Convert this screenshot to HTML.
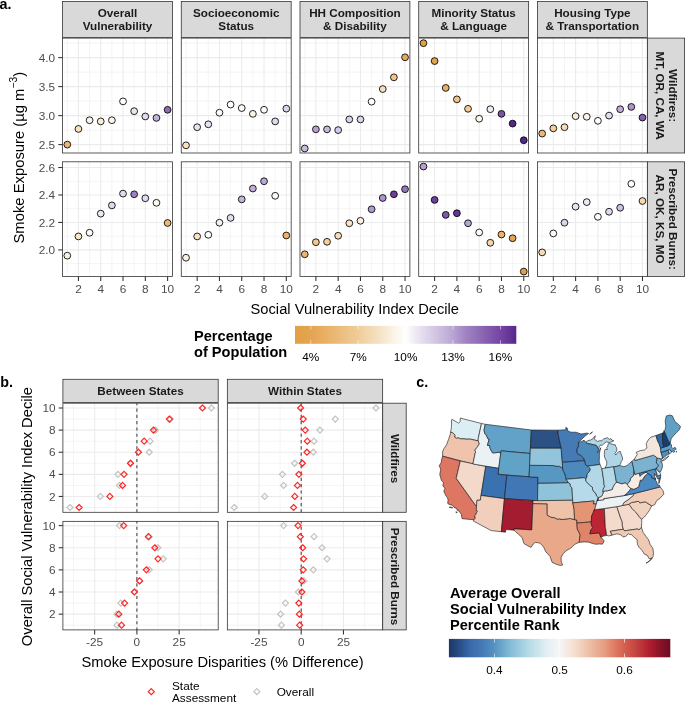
<!DOCTYPE html>
<html><head><meta charset="utf-8"><style>
html,body{margin:0;padding:0;background:#fff;}
body{width:685px;height:704px;overflow:hidden;font-family:"Liberation Sans",sans-serif;}
svg{display:block;will-change:transform;}
</style></head><body>
<svg width="685" height="704" viewBox="0 0 685 704">
<rect width="685" height="704" fill="#fff"/>
<rect x="62.55" y="38.1" width="109.9" height="114.9" fill="#fff"/>
<line x1="62.55" x2="172.45" y1="130.1" y2="130.1" stroke="#EBEBEB" stroke-width="0.55"/>
<line x1="62.55" x2="172.45" y1="101.1" y2="101.1" stroke="#EBEBEB" stroke-width="0.55"/>
<line x1="62.55" x2="172.45" y1="72.1" y2="72.1" stroke="#EBEBEB" stroke-width="0.55"/>
<line x1="62.55" x2="172.45" y1="43.1" y2="43.1" stroke="#EBEBEB" stroke-width="0.55"/>
<line x1="67.3" x2="67.3" y1="38.1" y2="153" stroke="#EBEBEB" stroke-width="0.55"/>
<line x1="89.59" x2="89.59" y1="38.1" y2="153" stroke="#EBEBEB" stroke-width="0.55"/>
<line x1="111.88" x2="111.88" y1="38.1" y2="153" stroke="#EBEBEB" stroke-width="0.55"/>
<line x1="134.16" x2="134.16" y1="38.1" y2="153" stroke="#EBEBEB" stroke-width="0.55"/>
<line x1="156.45" x2="156.45" y1="38.1" y2="153" stroke="#EBEBEB" stroke-width="0.55"/>
<line x1="62.55" x2="172.45" y1="144.6" y2="144.6" stroke="#EBEBEB" stroke-width="1.07"/>
<line x1="62.55" x2="172.45" y1="115.6" y2="115.6" stroke="#EBEBEB" stroke-width="1.07"/>
<line x1="62.55" x2="172.45" y1="86.6" y2="86.6" stroke="#EBEBEB" stroke-width="1.07"/>
<line x1="62.55" x2="172.45" y1="57.6" y2="57.6" stroke="#EBEBEB" stroke-width="1.07"/>
<line x1="78.44" x2="78.44" y1="38.1" y2="153" stroke="#EBEBEB" stroke-width="1.07"/>
<line x1="100.73" x2="100.73" y1="38.1" y2="153" stroke="#EBEBEB" stroke-width="1.07"/>
<line x1="123.02" x2="123.02" y1="38.1" y2="153" stroke="#EBEBEB" stroke-width="1.07"/>
<line x1="145.31" x2="145.31" y1="38.1" y2="153" stroke="#EBEBEB" stroke-width="1.07"/>
<line x1="167.6" x2="167.6" y1="38.1" y2="153" stroke="#EBEBEB" stroke-width="1.07"/>
<circle cx="67.3" cy="144.6" r="3.4" fill="#EAB774" stroke="#000" stroke-width="0.85"/>
<circle cx="78.44" cy="128.94" r="3.4" fill="#F8E2BF" stroke="#000" stroke-width="0.85"/>
<circle cx="89.59" cy="120.24" r="3.4" fill="#FBF6EC" stroke="#000" stroke-width="0.85"/>
<circle cx="100.73" cy="121.4" r="3.4" fill="#F8EEDB" stroke="#000" stroke-width="0.85"/>
<circle cx="111.88" cy="120.24" r="3.4" fill="#FAF6EB" stroke="#000" stroke-width="0.85"/>
<circle cx="123.02" cy="101.39" r="3.4" fill="#FFFFFF" stroke="#000" stroke-width="0.85"/>
<circle cx="134.16" cy="111.19" r="3.4" fill="#E9E4F2" stroke="#000" stroke-width="0.85"/>
<circle cx="145.31" cy="116.47" r="3.4" fill="#E0D9ED" stroke="#000" stroke-width="0.85"/>
<circle cx="156.45" cy="117.92" r="3.4" fill="#C2B1D9" stroke="#000" stroke-width="0.85"/>
<circle cx="167.6" cy="109.8" r="3.4" fill="#8A6BB4" stroke="#000" stroke-width="0.85"/>
<rect x="62.55" y="38.1" width="109.9" height="114.9" fill="none" stroke="#333333" stroke-width="0.8"/>
<rect x="181.27" y="38.1" width="109.9" height="114.9" fill="#fff"/>
<line x1="181.27" x2="291.17" y1="130.1" y2="130.1" stroke="#EBEBEB" stroke-width="0.55"/>
<line x1="181.27" x2="291.17" y1="101.1" y2="101.1" stroke="#EBEBEB" stroke-width="0.55"/>
<line x1="181.27" x2="291.17" y1="72.1" y2="72.1" stroke="#EBEBEB" stroke-width="0.55"/>
<line x1="181.27" x2="291.17" y1="43.1" y2="43.1" stroke="#EBEBEB" stroke-width="0.55"/>
<line x1="186.02" x2="186.02" y1="38.1" y2="153" stroke="#EBEBEB" stroke-width="0.55"/>
<line x1="208.31" x2="208.31" y1="38.1" y2="153" stroke="#EBEBEB" stroke-width="0.55"/>
<line x1="230.6" x2="230.6" y1="38.1" y2="153" stroke="#EBEBEB" stroke-width="0.55"/>
<line x1="252.88" x2="252.88" y1="38.1" y2="153" stroke="#EBEBEB" stroke-width="0.55"/>
<line x1="275.17" x2="275.17" y1="38.1" y2="153" stroke="#EBEBEB" stroke-width="0.55"/>
<line x1="181.27" x2="291.17" y1="144.6" y2="144.6" stroke="#EBEBEB" stroke-width="1.07"/>
<line x1="181.27" x2="291.17" y1="115.6" y2="115.6" stroke="#EBEBEB" stroke-width="1.07"/>
<line x1="181.27" x2="291.17" y1="86.6" y2="86.6" stroke="#EBEBEB" stroke-width="1.07"/>
<line x1="181.27" x2="291.17" y1="57.6" y2="57.6" stroke="#EBEBEB" stroke-width="1.07"/>
<line x1="197.16" x2="197.16" y1="38.1" y2="153" stroke="#EBEBEB" stroke-width="1.07"/>
<line x1="219.45" x2="219.45" y1="38.1" y2="153" stroke="#EBEBEB" stroke-width="1.07"/>
<line x1="241.74" x2="241.74" y1="38.1" y2="153" stroke="#EBEBEB" stroke-width="1.07"/>
<line x1="264.03" x2="264.03" y1="38.1" y2="153" stroke="#EBEBEB" stroke-width="1.07"/>
<line x1="286.32" x2="286.32" y1="38.1" y2="153" stroke="#EBEBEB" stroke-width="1.07"/>
<circle cx="186.02" cy="145.35" r="3.4" fill="#F7E1C0" stroke="#000" stroke-width="0.85"/>
<circle cx="197.16" cy="127.2" r="3.4" fill="#E8E3F3" stroke="#000" stroke-width="0.85"/>
<circle cx="208.31" cy="124.3" r="3.4" fill="#E6E0F1" stroke="#000" stroke-width="0.85"/>
<circle cx="219.45" cy="112.7" r="3.4" fill="#FBFAFD" stroke="#000" stroke-width="0.85"/>
<circle cx="230.6" cy="104.58" r="3.4" fill="#FFFFFE" stroke="#000" stroke-width="0.85"/>
<circle cx="241.74" cy="108.06" r="3.4" fill="#FCFAF2" stroke="#000" stroke-width="0.85"/>
<circle cx="252.88" cy="113.86" r="3.4" fill="#FAF4E6" stroke="#000" stroke-width="0.85"/>
<circle cx="264.03" cy="109.8" r="3.4" fill="#FBFAF8" stroke="#000" stroke-width="0.85"/>
<circle cx="275.17" cy="121.4" r="3.4" fill="#E0DAED" stroke="#000" stroke-width="0.85"/>
<circle cx="286.32" cy="108.64" r="3.4" fill="#DAD3EB" stroke="#000" stroke-width="0.85"/>
<rect x="181.27" y="38.1" width="109.9" height="114.9" fill="none" stroke="#333333" stroke-width="0.8"/>
<rect x="299.99" y="38.1" width="109.9" height="114.9" fill="#fff"/>
<line x1="299.99" x2="409.89" y1="130.1" y2="130.1" stroke="#EBEBEB" stroke-width="0.55"/>
<line x1="299.99" x2="409.89" y1="101.1" y2="101.1" stroke="#EBEBEB" stroke-width="0.55"/>
<line x1="299.99" x2="409.89" y1="72.1" y2="72.1" stroke="#EBEBEB" stroke-width="0.55"/>
<line x1="299.99" x2="409.89" y1="43.1" y2="43.1" stroke="#EBEBEB" stroke-width="0.55"/>
<line x1="304.74" x2="304.74" y1="38.1" y2="153" stroke="#EBEBEB" stroke-width="0.55"/>
<line x1="327.03" x2="327.03" y1="38.1" y2="153" stroke="#EBEBEB" stroke-width="0.55"/>
<line x1="349.32" x2="349.32" y1="38.1" y2="153" stroke="#EBEBEB" stroke-width="0.55"/>
<line x1="371.6" x2="371.6" y1="38.1" y2="153" stroke="#EBEBEB" stroke-width="0.55"/>
<line x1="393.89" x2="393.89" y1="38.1" y2="153" stroke="#EBEBEB" stroke-width="0.55"/>
<line x1="299.99" x2="409.89" y1="144.6" y2="144.6" stroke="#EBEBEB" stroke-width="1.07"/>
<line x1="299.99" x2="409.89" y1="115.6" y2="115.6" stroke="#EBEBEB" stroke-width="1.07"/>
<line x1="299.99" x2="409.89" y1="86.6" y2="86.6" stroke="#EBEBEB" stroke-width="1.07"/>
<line x1="299.99" x2="409.89" y1="57.6" y2="57.6" stroke="#EBEBEB" stroke-width="1.07"/>
<line x1="315.88" x2="315.88" y1="38.1" y2="153" stroke="#EBEBEB" stroke-width="1.07"/>
<line x1="338.17" x2="338.17" y1="38.1" y2="153" stroke="#EBEBEB" stroke-width="1.07"/>
<line x1="360.46" x2="360.46" y1="38.1" y2="153" stroke="#EBEBEB" stroke-width="1.07"/>
<line x1="382.75" x2="382.75" y1="38.1" y2="153" stroke="#EBEBEB" stroke-width="1.07"/>
<line x1="405.04" x2="405.04" y1="38.1" y2="153" stroke="#EBEBEB" stroke-width="1.07"/>
<circle cx="304.74" cy="148.49" r="3.4" fill="#CBBCDF" stroke="#000" stroke-width="0.85"/>
<circle cx="315.88" cy="129.35" r="3.4" fill="#B5A0D1" stroke="#000" stroke-width="0.85"/>
<circle cx="327.03" cy="129.35" r="3.4" fill="#C7B7DB" stroke="#000" stroke-width="0.85"/>
<circle cx="338.17" cy="130.1" r="3.4" fill="#D4C9E6" stroke="#000" stroke-width="0.85"/>
<circle cx="349.32" cy="119.43" r="3.4" fill="#D9D0EA" stroke="#000" stroke-width="0.85"/>
<circle cx="360.46" cy="119.43" r="3.4" fill="#DCD5EC" stroke="#000" stroke-width="0.85"/>
<circle cx="371.6" cy="101.68" r="3.4" fill="#FFFFFF" stroke="#000" stroke-width="0.85"/>
<circle cx="382.75" cy="89.04" r="3.4" fill="#F6E0C0" stroke="#000" stroke-width="0.85"/>
<circle cx="393.89" cy="77.32" r="3.4" fill="#F0C48A" stroke="#000" stroke-width="0.85"/>
<circle cx="405.04" cy="57.31" r="3.4" fill="#E5AA58" stroke="#000" stroke-width="0.85"/>
<rect x="299.99" y="38.1" width="109.9" height="114.9" fill="none" stroke="#333333" stroke-width="0.8"/>
<rect x="418.71" y="38.1" width="109.9" height="114.9" fill="#fff"/>
<line x1="418.71" x2="528.61" y1="130.1" y2="130.1" stroke="#EBEBEB" stroke-width="0.55"/>
<line x1="418.71" x2="528.61" y1="101.1" y2="101.1" stroke="#EBEBEB" stroke-width="0.55"/>
<line x1="418.71" x2="528.61" y1="72.1" y2="72.1" stroke="#EBEBEB" stroke-width="0.55"/>
<line x1="418.71" x2="528.61" y1="43.1" y2="43.1" stroke="#EBEBEB" stroke-width="0.55"/>
<line x1="423.46" x2="423.46" y1="38.1" y2="153" stroke="#EBEBEB" stroke-width="0.55"/>
<line x1="445.75" x2="445.75" y1="38.1" y2="153" stroke="#EBEBEB" stroke-width="0.55"/>
<line x1="468.04" x2="468.04" y1="38.1" y2="153" stroke="#EBEBEB" stroke-width="0.55"/>
<line x1="490.32" x2="490.32" y1="38.1" y2="153" stroke="#EBEBEB" stroke-width="0.55"/>
<line x1="512.61" x2="512.61" y1="38.1" y2="153" stroke="#EBEBEB" stroke-width="0.55"/>
<line x1="418.71" x2="528.61" y1="144.6" y2="144.6" stroke="#EBEBEB" stroke-width="1.07"/>
<line x1="418.71" x2="528.61" y1="115.6" y2="115.6" stroke="#EBEBEB" stroke-width="1.07"/>
<line x1="418.71" x2="528.61" y1="86.6" y2="86.6" stroke="#EBEBEB" stroke-width="1.07"/>
<line x1="418.71" x2="528.61" y1="57.6" y2="57.6" stroke="#EBEBEB" stroke-width="1.07"/>
<line x1="434.6" x2="434.6" y1="38.1" y2="153" stroke="#EBEBEB" stroke-width="1.07"/>
<line x1="456.89" x2="456.89" y1="38.1" y2="153" stroke="#EBEBEB" stroke-width="1.07"/>
<line x1="479.18" x2="479.18" y1="38.1" y2="153" stroke="#EBEBEB" stroke-width="1.07"/>
<line x1="501.47" x2="501.47" y1="38.1" y2="153" stroke="#EBEBEB" stroke-width="1.07"/>
<line x1="523.76" x2="523.76" y1="38.1" y2="153" stroke="#EBEBEB" stroke-width="1.07"/>
<circle cx="423.46" cy="43.16" r="3.4" fill="#E2A045" stroke="#000" stroke-width="0.85"/>
<circle cx="434.6" cy="61.08" r="3.4" fill="#E2A44B" stroke="#000" stroke-width="0.85"/>
<circle cx="445.75" cy="87.93" r="3.4" fill="#E6B165" stroke="#000" stroke-width="0.85"/>
<circle cx="456.89" cy="99.36" r="3.4" fill="#ECC48A" stroke="#000" stroke-width="0.85"/>
<circle cx="468.04" cy="108.81" r="3.4" fill="#F2CB98" stroke="#000" stroke-width="0.85"/>
<circle cx="479.18" cy="118.73" r="3.4" fill="#FCF7EA" stroke="#000" stroke-width="0.85"/>
<circle cx="490.32" cy="109.22" r="3.4" fill="#EEEBF5" stroke="#000" stroke-width="0.85"/>
<circle cx="501.47" cy="113.86" r="3.4" fill="#7A55A6" stroke="#000" stroke-width="0.85"/>
<circle cx="512.61" cy="123.6" r="3.4" fill="#53288B" stroke="#000" stroke-width="0.85"/>
<circle cx="523.76" cy="140.25" r="3.4" fill="#53288B" stroke="#000" stroke-width="0.85"/>
<rect x="418.71" y="38.1" width="109.9" height="114.9" fill="none" stroke="#333333" stroke-width="0.8"/>
<rect x="537.43" y="38.1" width="109.9" height="114.9" fill="#fff"/>
<line x1="537.43" x2="647.33" y1="130.1" y2="130.1" stroke="#EBEBEB" stroke-width="0.55"/>
<line x1="537.43" x2="647.33" y1="101.1" y2="101.1" stroke="#EBEBEB" stroke-width="0.55"/>
<line x1="537.43" x2="647.33" y1="72.1" y2="72.1" stroke="#EBEBEB" stroke-width="0.55"/>
<line x1="537.43" x2="647.33" y1="43.1" y2="43.1" stroke="#EBEBEB" stroke-width="0.55"/>
<line x1="542.18" x2="542.18" y1="38.1" y2="153" stroke="#EBEBEB" stroke-width="0.55"/>
<line x1="564.47" x2="564.47" y1="38.1" y2="153" stroke="#EBEBEB" stroke-width="0.55"/>
<line x1="586.76" x2="586.76" y1="38.1" y2="153" stroke="#EBEBEB" stroke-width="0.55"/>
<line x1="609.04" x2="609.04" y1="38.1" y2="153" stroke="#EBEBEB" stroke-width="0.55"/>
<line x1="631.33" x2="631.33" y1="38.1" y2="153" stroke="#EBEBEB" stroke-width="0.55"/>
<line x1="537.43" x2="647.33" y1="144.6" y2="144.6" stroke="#EBEBEB" stroke-width="1.07"/>
<line x1="537.43" x2="647.33" y1="115.6" y2="115.6" stroke="#EBEBEB" stroke-width="1.07"/>
<line x1="537.43" x2="647.33" y1="86.6" y2="86.6" stroke="#EBEBEB" stroke-width="1.07"/>
<line x1="537.43" x2="647.33" y1="57.6" y2="57.6" stroke="#EBEBEB" stroke-width="1.07"/>
<line x1="553.32" x2="553.32" y1="38.1" y2="153" stroke="#EBEBEB" stroke-width="1.07"/>
<line x1="575.61" x2="575.61" y1="38.1" y2="153" stroke="#EBEBEB" stroke-width="1.07"/>
<line x1="597.9" x2="597.9" y1="38.1" y2="153" stroke="#EBEBEB" stroke-width="1.07"/>
<line x1="620.19" x2="620.19" y1="38.1" y2="153" stroke="#EBEBEB" stroke-width="1.07"/>
<line x1="642.48" x2="642.48" y1="38.1" y2="153" stroke="#EBEBEB" stroke-width="1.07"/>
<circle cx="542.18" cy="133.58" r="3.4" fill="#E9B877" stroke="#000" stroke-width="0.85"/>
<circle cx="553.32" cy="128.36" r="3.4" fill="#F2D09E" stroke="#000" stroke-width="0.85"/>
<circle cx="564.47" cy="127.2" r="3.4" fill="#F6DDB7" stroke="#000" stroke-width="0.85"/>
<circle cx="575.61" cy="116.18" r="3.4" fill="#F9ECD8" stroke="#000" stroke-width="0.85"/>
<circle cx="586.76" cy="116.76" r="3.4" fill="#FBF4EA" stroke="#000" stroke-width="0.85"/>
<circle cx="597.9" cy="120.82" r="3.4" fill="#FFFFFF" stroke="#000" stroke-width="0.85"/>
<circle cx="609.04" cy="115.6" r="3.4" fill="#E3DCEF" stroke="#000" stroke-width="0.85"/>
<circle cx="620.19" cy="109.22" r="3.4" fill="#C0ADD6" stroke="#000" stroke-width="0.85"/>
<circle cx="631.33" cy="106.9" r="3.4" fill="#AC94CA" stroke="#000" stroke-width="0.85"/>
<circle cx="642.48" cy="117.57" r="3.4" fill="#8360AC" stroke="#000" stroke-width="0.85"/>
<rect x="537.43" y="38.1" width="109.9" height="114.9" fill="none" stroke="#333333" stroke-width="0.8"/>
<rect x="62.55" y="161.8" width="109.9" height="114.6" fill="#fff"/>
<line x1="62.55" x2="172.45" y1="263.63" y2="263.63" stroke="#EBEBEB" stroke-width="0.55"/>
<line x1="62.55" x2="172.45" y1="236.17" y2="236.17" stroke="#EBEBEB" stroke-width="0.55"/>
<line x1="62.55" x2="172.45" y1="208.71" y2="208.71" stroke="#EBEBEB" stroke-width="0.55"/>
<line x1="62.55" x2="172.45" y1="181.25" y2="181.25" stroke="#EBEBEB" stroke-width="0.55"/>
<line x1="67.3" x2="67.3" y1="161.8" y2="276.4" stroke="#EBEBEB" stroke-width="0.55"/>
<line x1="89.59" x2="89.59" y1="161.8" y2="276.4" stroke="#EBEBEB" stroke-width="0.55"/>
<line x1="111.88" x2="111.88" y1="161.8" y2="276.4" stroke="#EBEBEB" stroke-width="0.55"/>
<line x1="134.16" x2="134.16" y1="161.8" y2="276.4" stroke="#EBEBEB" stroke-width="0.55"/>
<line x1="156.45" x2="156.45" y1="161.8" y2="276.4" stroke="#EBEBEB" stroke-width="0.55"/>
<line x1="62.55" x2="172.45" y1="249.9" y2="249.9" stroke="#EBEBEB" stroke-width="1.07"/>
<line x1="62.55" x2="172.45" y1="222.44" y2="222.44" stroke="#EBEBEB" stroke-width="1.07"/>
<line x1="62.55" x2="172.45" y1="194.98" y2="194.98" stroke="#EBEBEB" stroke-width="1.07"/>
<line x1="62.55" x2="172.45" y1="167.52" y2="167.52" stroke="#EBEBEB" stroke-width="1.07"/>
<line x1="78.44" x2="78.44" y1="161.8" y2="276.4" stroke="#EBEBEB" stroke-width="1.07"/>
<line x1="100.73" x2="100.73" y1="161.8" y2="276.4" stroke="#EBEBEB" stroke-width="1.07"/>
<line x1="123.02" x2="123.02" y1="161.8" y2="276.4" stroke="#EBEBEB" stroke-width="1.07"/>
<line x1="145.31" x2="145.31" y1="161.8" y2="276.4" stroke="#EBEBEB" stroke-width="1.07"/>
<line x1="167.6" x2="167.6" y1="161.8" y2="276.4" stroke="#EBEBEB" stroke-width="1.07"/>
<circle cx="67.3" cy="255.67" r="3.4" fill="#FAF2E0" stroke="#000" stroke-width="0.85"/>
<circle cx="78.44" cy="236.44" r="3.4" fill="#F8E8C9" stroke="#000" stroke-width="0.85"/>
<circle cx="89.59" cy="232.74" r="3.4" fill="#FDFCF8" stroke="#000" stroke-width="0.85"/>
<circle cx="100.73" cy="213.65" r="3.4" fill="#ECE8F4" stroke="#000" stroke-width="0.85"/>
<circle cx="111.88" cy="205.41" r="3.4" fill="#DED8ED" stroke="#000" stroke-width="0.85"/>
<circle cx="123.02" cy="193.61" r="3.4" fill="#E2DDEE" stroke="#000" stroke-width="0.85"/>
<circle cx="134.16" cy="194.29" r="3.4" fill="#9C80C0" stroke="#000" stroke-width="0.85"/>
<circle cx="145.31" cy="198.28" r="3.4" fill="#E0DAEE" stroke="#000" stroke-width="0.85"/>
<circle cx="156.45" cy="202.81" r="3.4" fill="#FAF8F0" stroke="#000" stroke-width="0.85"/>
<circle cx="167.6" cy="222.99" r="3.4" fill="#EAB977" stroke="#000" stroke-width="0.85"/>
<rect x="62.55" y="161.8" width="109.9" height="114.6" fill="none" stroke="#333333" stroke-width="0.8"/>
<rect x="181.27" y="161.8" width="109.9" height="114.6" fill="#fff"/>
<line x1="181.27" x2="291.17" y1="263.63" y2="263.63" stroke="#EBEBEB" stroke-width="0.55"/>
<line x1="181.27" x2="291.17" y1="236.17" y2="236.17" stroke="#EBEBEB" stroke-width="0.55"/>
<line x1="181.27" x2="291.17" y1="208.71" y2="208.71" stroke="#EBEBEB" stroke-width="0.55"/>
<line x1="181.27" x2="291.17" y1="181.25" y2="181.25" stroke="#EBEBEB" stroke-width="0.55"/>
<line x1="186.02" x2="186.02" y1="161.8" y2="276.4" stroke="#EBEBEB" stroke-width="0.55"/>
<line x1="208.31" x2="208.31" y1="161.8" y2="276.4" stroke="#EBEBEB" stroke-width="0.55"/>
<line x1="230.6" x2="230.6" y1="161.8" y2="276.4" stroke="#EBEBEB" stroke-width="0.55"/>
<line x1="252.88" x2="252.88" y1="161.8" y2="276.4" stroke="#EBEBEB" stroke-width="0.55"/>
<line x1="275.17" x2="275.17" y1="161.8" y2="276.4" stroke="#EBEBEB" stroke-width="0.55"/>
<line x1="181.27" x2="291.17" y1="249.9" y2="249.9" stroke="#EBEBEB" stroke-width="1.07"/>
<line x1="181.27" x2="291.17" y1="222.44" y2="222.44" stroke="#EBEBEB" stroke-width="1.07"/>
<line x1="181.27" x2="291.17" y1="194.98" y2="194.98" stroke="#EBEBEB" stroke-width="1.07"/>
<line x1="181.27" x2="291.17" y1="167.52" y2="167.52" stroke="#EBEBEB" stroke-width="1.07"/>
<line x1="197.16" x2="197.16" y1="161.8" y2="276.4" stroke="#EBEBEB" stroke-width="1.07"/>
<line x1="219.45" x2="219.45" y1="161.8" y2="276.4" stroke="#EBEBEB" stroke-width="1.07"/>
<line x1="241.74" x2="241.74" y1="161.8" y2="276.4" stroke="#EBEBEB" stroke-width="1.07"/>
<line x1="264.03" x2="264.03" y1="161.8" y2="276.4" stroke="#EBEBEB" stroke-width="1.07"/>
<line x1="286.32" x2="286.32" y1="161.8" y2="276.4" stroke="#EBEBEB" stroke-width="1.07"/>
<circle cx="186.02" cy="257.73" r="3.4" fill="#FBF3E2" stroke="#000" stroke-width="0.85"/>
<circle cx="197.16" cy="236.44" r="3.4" fill="#F7E4C6" stroke="#000" stroke-width="0.85"/>
<circle cx="208.31" cy="234.8" r="3.4" fill="#FEFEFE" stroke="#000" stroke-width="0.85"/>
<circle cx="219.45" cy="222.71" r="3.4" fill="#F1EFF7" stroke="#000" stroke-width="0.85"/>
<circle cx="230.6" cy="217.91" r="3.4" fill="#E3DDF0" stroke="#000" stroke-width="0.85"/>
<circle cx="241.74" cy="199.37" r="3.4" fill="#C5B4DA" stroke="#000" stroke-width="0.85"/>
<circle cx="252.88" cy="188.53" r="3.4" fill="#BFADD6" stroke="#000" stroke-width="0.85"/>
<circle cx="264.03" cy="181.25" r="3.4" fill="#BBA8D6" stroke="#000" stroke-width="0.85"/>
<circle cx="275.17" cy="195.8" r="3.4" fill="#FDFBF5" stroke="#000" stroke-width="0.85"/>
<circle cx="286.32" cy="235.48" r="3.4" fill="#E8B46D" stroke="#000" stroke-width="0.85"/>
<rect x="181.27" y="161.8" width="109.9" height="114.6" fill="none" stroke="#333333" stroke-width="0.8"/>
<rect x="299.99" y="161.8" width="109.9" height="114.6" fill="#fff"/>
<line x1="299.99" x2="409.89" y1="263.63" y2="263.63" stroke="#EBEBEB" stroke-width="0.55"/>
<line x1="299.99" x2="409.89" y1="236.17" y2="236.17" stroke="#EBEBEB" stroke-width="0.55"/>
<line x1="299.99" x2="409.89" y1="208.71" y2="208.71" stroke="#EBEBEB" stroke-width="0.55"/>
<line x1="299.99" x2="409.89" y1="181.25" y2="181.25" stroke="#EBEBEB" stroke-width="0.55"/>
<line x1="304.74" x2="304.74" y1="161.8" y2="276.4" stroke="#EBEBEB" stroke-width="0.55"/>
<line x1="327.03" x2="327.03" y1="161.8" y2="276.4" stroke="#EBEBEB" stroke-width="0.55"/>
<line x1="349.32" x2="349.32" y1="161.8" y2="276.4" stroke="#EBEBEB" stroke-width="0.55"/>
<line x1="371.6" x2="371.6" y1="161.8" y2="276.4" stroke="#EBEBEB" stroke-width="0.55"/>
<line x1="393.89" x2="393.89" y1="161.8" y2="276.4" stroke="#EBEBEB" stroke-width="0.55"/>
<line x1="299.99" x2="409.89" y1="249.9" y2="249.9" stroke="#EBEBEB" stroke-width="1.07"/>
<line x1="299.99" x2="409.89" y1="222.44" y2="222.44" stroke="#EBEBEB" stroke-width="1.07"/>
<line x1="299.99" x2="409.89" y1="194.98" y2="194.98" stroke="#EBEBEB" stroke-width="1.07"/>
<line x1="299.99" x2="409.89" y1="167.52" y2="167.52" stroke="#EBEBEB" stroke-width="1.07"/>
<line x1="315.88" x2="315.88" y1="161.8" y2="276.4" stroke="#EBEBEB" stroke-width="1.07"/>
<line x1="338.17" x2="338.17" y1="161.8" y2="276.4" stroke="#EBEBEB" stroke-width="1.07"/>
<line x1="360.46" x2="360.46" y1="161.8" y2="276.4" stroke="#EBEBEB" stroke-width="1.07"/>
<line x1="382.75" x2="382.75" y1="161.8" y2="276.4" stroke="#EBEBEB" stroke-width="1.07"/>
<line x1="405.04" x2="405.04" y1="161.8" y2="276.4" stroke="#EBEBEB" stroke-width="1.07"/>
<circle cx="304.74" cy="254.29" r="3.4" fill="#E9B672" stroke="#000" stroke-width="0.85"/>
<circle cx="315.88" cy="242.21" r="3.4" fill="#F2C88F" stroke="#000" stroke-width="0.85"/>
<circle cx="327.03" cy="241.8" r="3.4" fill="#F3CF9E" stroke="#000" stroke-width="0.85"/>
<circle cx="338.17" cy="235.76" r="3.4" fill="#F5DDB8" stroke="#000" stroke-width="0.85"/>
<circle cx="349.32" cy="223.26" r="3.4" fill="#F7E3C5" stroke="#000" stroke-width="0.85"/>
<circle cx="360.46" cy="220.79" r="3.4" fill="#FAF1E0" stroke="#000" stroke-width="0.85"/>
<circle cx="371.6" cy="209.26" r="3.4" fill="#AF9BD1" stroke="#000" stroke-width="0.85"/>
<circle cx="382.75" cy="198" r="3.4" fill="#AD96CC" stroke="#000" stroke-width="0.85"/>
<circle cx="393.89" cy="194.29" r="3.4" fill="#6B409B" stroke="#000" stroke-width="0.85"/>
<circle cx="405.04" cy="189.21" r="3.4" fill="#9677BA" stroke="#000" stroke-width="0.85"/>
<rect x="299.99" y="161.8" width="109.9" height="114.6" fill="none" stroke="#333333" stroke-width="0.8"/>
<rect x="418.71" y="161.8" width="109.9" height="114.6" fill="#fff"/>
<line x1="418.71" x2="528.61" y1="263.63" y2="263.63" stroke="#EBEBEB" stroke-width="0.55"/>
<line x1="418.71" x2="528.61" y1="236.17" y2="236.17" stroke="#EBEBEB" stroke-width="0.55"/>
<line x1="418.71" x2="528.61" y1="208.71" y2="208.71" stroke="#EBEBEB" stroke-width="0.55"/>
<line x1="418.71" x2="528.61" y1="181.25" y2="181.25" stroke="#EBEBEB" stroke-width="0.55"/>
<line x1="423.46" x2="423.46" y1="161.8" y2="276.4" stroke="#EBEBEB" stroke-width="0.55"/>
<line x1="445.75" x2="445.75" y1="161.8" y2="276.4" stroke="#EBEBEB" stroke-width="0.55"/>
<line x1="468.04" x2="468.04" y1="161.8" y2="276.4" stroke="#EBEBEB" stroke-width="0.55"/>
<line x1="490.32" x2="490.32" y1="161.8" y2="276.4" stroke="#EBEBEB" stroke-width="0.55"/>
<line x1="512.61" x2="512.61" y1="161.8" y2="276.4" stroke="#EBEBEB" stroke-width="0.55"/>
<line x1="418.71" x2="528.61" y1="249.9" y2="249.9" stroke="#EBEBEB" stroke-width="1.07"/>
<line x1="418.71" x2="528.61" y1="222.44" y2="222.44" stroke="#EBEBEB" stroke-width="1.07"/>
<line x1="418.71" x2="528.61" y1="194.98" y2="194.98" stroke="#EBEBEB" stroke-width="1.07"/>
<line x1="418.71" x2="528.61" y1="167.52" y2="167.52" stroke="#EBEBEB" stroke-width="1.07"/>
<line x1="434.6" x2="434.6" y1="161.8" y2="276.4" stroke="#EBEBEB" stroke-width="1.07"/>
<line x1="456.89" x2="456.89" y1="161.8" y2="276.4" stroke="#EBEBEB" stroke-width="1.07"/>
<line x1="479.18" x2="479.18" y1="161.8" y2="276.4" stroke="#EBEBEB" stroke-width="1.07"/>
<line x1="501.47" x2="501.47" y1="161.8" y2="276.4" stroke="#EBEBEB" stroke-width="1.07"/>
<line x1="523.76" x2="523.76" y1="161.8" y2="276.4" stroke="#EBEBEB" stroke-width="1.07"/>
<circle cx="423.46" cy="166.56" r="3.4" fill="#B4A0D1" stroke="#000" stroke-width="0.85"/>
<circle cx="434.6" cy="199.92" r="3.4" fill="#6B419B" stroke="#000" stroke-width="0.85"/>
<circle cx="445.75" cy="214.89" r="3.4" fill="#7D5BAA" stroke="#000" stroke-width="0.85"/>
<circle cx="456.89" cy="213.24" r="3.4" fill="#613695" stroke="#000" stroke-width="0.85"/>
<circle cx="468.04" cy="223.26" r="3.4" fill="#B8A5D4" stroke="#000" stroke-width="0.85"/>
<circle cx="479.18" cy="232.46" r="3.4" fill="#FEFCF8" stroke="#000" stroke-width="0.85"/>
<circle cx="490.32" cy="242.76" r="3.4" fill="#F5D6AA" stroke="#000" stroke-width="0.85"/>
<circle cx="501.47" cy="234.52" r="3.4" fill="#E8B46D" stroke="#000" stroke-width="0.85"/>
<circle cx="512.61" cy="238.23" r="3.4" fill="#E3A653" stroke="#000" stroke-width="0.85"/>
<circle cx="523.76" cy="271.59" r="3.4" fill="#E2A045" stroke="#000" stroke-width="0.85"/>
<rect x="418.71" y="161.8" width="109.9" height="114.6" fill="none" stroke="#333333" stroke-width="0.8"/>
<rect x="537.43" y="161.8" width="109.9" height="114.6" fill="#fff"/>
<line x1="537.43" x2="647.33" y1="263.63" y2="263.63" stroke="#EBEBEB" stroke-width="0.55"/>
<line x1="537.43" x2="647.33" y1="236.17" y2="236.17" stroke="#EBEBEB" stroke-width="0.55"/>
<line x1="537.43" x2="647.33" y1="208.71" y2="208.71" stroke="#EBEBEB" stroke-width="0.55"/>
<line x1="537.43" x2="647.33" y1="181.25" y2="181.25" stroke="#EBEBEB" stroke-width="0.55"/>
<line x1="542.18" x2="542.18" y1="161.8" y2="276.4" stroke="#EBEBEB" stroke-width="0.55"/>
<line x1="564.47" x2="564.47" y1="161.8" y2="276.4" stroke="#EBEBEB" stroke-width="0.55"/>
<line x1="586.76" x2="586.76" y1="161.8" y2="276.4" stroke="#EBEBEB" stroke-width="0.55"/>
<line x1="609.04" x2="609.04" y1="161.8" y2="276.4" stroke="#EBEBEB" stroke-width="0.55"/>
<line x1="631.33" x2="631.33" y1="161.8" y2="276.4" stroke="#EBEBEB" stroke-width="0.55"/>
<line x1="537.43" x2="647.33" y1="249.9" y2="249.9" stroke="#EBEBEB" stroke-width="1.07"/>
<line x1="537.43" x2="647.33" y1="222.44" y2="222.44" stroke="#EBEBEB" stroke-width="1.07"/>
<line x1="537.43" x2="647.33" y1="194.98" y2="194.98" stroke="#EBEBEB" stroke-width="1.07"/>
<line x1="537.43" x2="647.33" y1="167.52" y2="167.52" stroke="#EBEBEB" stroke-width="1.07"/>
<line x1="553.32" x2="553.32" y1="161.8" y2="276.4" stroke="#EBEBEB" stroke-width="1.07"/>
<line x1="575.61" x2="575.61" y1="161.8" y2="276.4" stroke="#EBEBEB" stroke-width="1.07"/>
<line x1="597.9" x2="597.9" y1="161.8" y2="276.4" stroke="#EBEBEB" stroke-width="1.07"/>
<line x1="620.19" x2="620.19" y1="161.8" y2="276.4" stroke="#EBEBEB" stroke-width="1.07"/>
<line x1="642.48" x2="642.48" y1="161.8" y2="276.4" stroke="#EBEBEB" stroke-width="1.07"/>
<circle cx="542.18" cy="252.37" r="3.4" fill="#F5DCB5" stroke="#000" stroke-width="0.85"/>
<circle cx="553.32" cy="233.42" r="3.4" fill="#FCFAF3" stroke="#000" stroke-width="0.85"/>
<circle cx="564.47" cy="222.71" r="3.4" fill="#DCD3EB" stroke="#000" stroke-width="0.85"/>
<circle cx="575.61" cy="206.65" r="3.4" fill="#EAE5F3" stroke="#000" stroke-width="0.85"/>
<circle cx="586.76" cy="202.12" r="3.4" fill="#ECE8F4" stroke="#000" stroke-width="0.85"/>
<circle cx="597.9" cy="216.81" r="3.4" fill="#FEFEFE" stroke="#000" stroke-width="0.85"/>
<circle cx="609.04" cy="211.73" r="3.4" fill="#E0D9EE" stroke="#000" stroke-width="0.85"/>
<circle cx="620.19" cy="207.75" r="3.4" fill="#CEBFE0" stroke="#000" stroke-width="0.85"/>
<circle cx="631.33" cy="183.86" r="3.4" fill="#FFFFFF" stroke="#000" stroke-width="0.85"/>
<circle cx="642.48" cy="201.02" r="3.4" fill="#F6D9AE" stroke="#000" stroke-width="0.85"/>
<rect x="537.43" y="161.8" width="109.9" height="114.6" fill="none" stroke="#333333" stroke-width="0.8"/>
<rect x="62.55" y="1.5" width="109.9" height="35.9" fill="#D9D9D9" stroke="#333333" stroke-width="0.8"/>
<text x="117.5" y="17.0" font-family="Liberation Sans, sans-serif" font-size="11.7" font-weight="bold" fill="#1A1A1A" text-anchor="middle">Overall</text>
<text x="117.5" y="29.9" font-family="Liberation Sans, sans-serif" font-size="11.7" font-weight="bold" fill="#1A1A1A" text-anchor="middle">Vulnerability</text>
<rect x="181.27" y="1.5" width="109.9" height="35.9" fill="#D9D9D9" stroke="#333333" stroke-width="0.8"/>
<text x="236.22" y="17.0" font-family="Liberation Sans, sans-serif" font-size="11.7" font-weight="bold" fill="#1A1A1A" text-anchor="middle">Socioeconomic</text>
<text x="236.22" y="29.9" font-family="Liberation Sans, sans-serif" font-size="11.7" font-weight="bold" fill="#1A1A1A" text-anchor="middle">Status</text>
<rect x="299.99" y="1.5" width="109.9" height="35.9" fill="#D9D9D9" stroke="#333333" stroke-width="0.8"/>
<text x="354.94" y="17.0" font-family="Liberation Sans, sans-serif" font-size="11.7" font-weight="bold" fill="#1A1A1A" text-anchor="middle">HH Composition</text>
<text x="354.94" y="29.9" font-family="Liberation Sans, sans-serif" font-size="11.7" font-weight="bold" fill="#1A1A1A" text-anchor="middle">&amp; Disability</text>
<rect x="418.71" y="1.5" width="109.9" height="35.9" fill="#D9D9D9" stroke="#333333" stroke-width="0.8"/>
<text x="473.66" y="17.0" font-family="Liberation Sans, sans-serif" font-size="11.7" font-weight="bold" fill="#1A1A1A" text-anchor="middle">Minority Status</text>
<text x="473.66" y="29.9" font-family="Liberation Sans, sans-serif" font-size="11.7" font-weight="bold" fill="#1A1A1A" text-anchor="middle">&amp; Language</text>
<rect x="537.43" y="1.5" width="109.9" height="35.9" fill="#D9D9D9" stroke="#333333" stroke-width="0.8"/>
<text x="592.38" y="17.0" font-family="Liberation Sans, sans-serif" font-size="11.7" font-weight="bold" fill="#1A1A1A" text-anchor="middle">Housing Type</text>
<text x="592.38" y="29.9" font-family="Liberation Sans, sans-serif" font-size="11.7" font-weight="bold" fill="#1A1A1A" text-anchor="middle">&amp; Transportation</text>
<rect x="647.45" y="38.1" width="37.15" height="114.9" fill="#D9D9D9" stroke="#333333" stroke-width="0.8"/>
<text transform="translate(669.1,95.55) rotate(90)" font-family="Liberation Sans, sans-serif" font-size="11.7" font-weight="bold" fill="#1A1A1A" text-anchor="middle" x="0" y="0">Wildfires:</text>
<text transform="translate(656.0,95.55) rotate(90)" font-family="Liberation Sans, sans-serif" font-size="11.7" font-weight="bold" fill="#1A1A1A" text-anchor="middle" x="0" y="0">MT, OR, CA, WA</text>
<rect x="647.45" y="161.8" width="37.15" height="114.6" fill="#D9D9D9" stroke="#333333" stroke-width="0.8"/>
<text transform="translate(669.1,219.1) rotate(90)" font-family="Liberation Sans, sans-serif" font-size="11.7" font-weight="bold" fill="#1A1A1A" text-anchor="middle" x="0" y="0">Prescribed Burns:</text>
<text transform="translate(656.0,219.1) rotate(90)" font-family="Liberation Sans, sans-serif" font-size="11.7" font-weight="bold" fill="#1A1A1A" text-anchor="middle" x="0" y="0">AR, OK, KS, MO</text>
<line x1="58.3" x2="62.5" y1="144.6" y2="144.6" stroke="#333333" stroke-width="1.07"/>
<text x="55.2" y="148.7" font-family="Liberation Sans, sans-serif" font-size="11.8" fill="#4D4D4D" text-anchor="end">2.5</text>
<line x1="58.3" x2="62.5" y1="115.6" y2="115.6" stroke="#333333" stroke-width="1.07"/>
<text x="55.2" y="119.7" font-family="Liberation Sans, sans-serif" font-size="11.8" fill="#4D4D4D" text-anchor="end">3.0</text>
<line x1="58.3" x2="62.5" y1="86.6" y2="86.6" stroke="#333333" stroke-width="1.07"/>
<text x="55.2" y="90.7" font-family="Liberation Sans, sans-serif" font-size="11.8" fill="#4D4D4D" text-anchor="end">3.5</text>
<line x1="58.3" x2="62.5" y1="57.6" y2="57.6" stroke="#333333" stroke-width="1.07"/>
<text x="55.2" y="61.7" font-family="Liberation Sans, sans-serif" font-size="11.8" fill="#4D4D4D" text-anchor="end">4.0</text>
<line x1="58.3" x2="62.5" y1="249.9" y2="249.9" stroke="#333333" stroke-width="1.07"/>
<text x="55.2" y="254" font-family="Liberation Sans, sans-serif" font-size="11.8" fill="#4D4D4D" text-anchor="end">2.0</text>
<line x1="58.3" x2="62.5" y1="222.44" y2="222.44" stroke="#333333" stroke-width="1.07"/>
<text x="55.2" y="226.54" font-family="Liberation Sans, sans-serif" font-size="11.8" fill="#4D4D4D" text-anchor="end">2.2</text>
<line x1="58.3" x2="62.5" y1="194.98" y2="194.98" stroke="#333333" stroke-width="1.07"/>
<text x="55.2" y="199.08" font-family="Liberation Sans, sans-serif" font-size="11.8" fill="#4D4D4D" text-anchor="end">2.4</text>
<line x1="58.3" x2="62.5" y1="167.52" y2="167.52" stroke="#333333" stroke-width="1.07"/>
<text x="55.2" y="171.62" font-family="Liberation Sans, sans-serif" font-size="11.8" fill="#4D4D4D" text-anchor="end">2.6</text>
<line x1="78.44" x2="78.44" y1="276.4" y2="281.0" stroke="#333333" stroke-width="1.07"/>
<text x="78.44" y="293.0" font-family="Liberation Sans, sans-serif" font-size="11.8" fill="#4D4D4D" text-anchor="middle">2</text>
<line x1="100.73" x2="100.73" y1="276.4" y2="281.0" stroke="#333333" stroke-width="1.07"/>
<text x="100.73" y="293.0" font-family="Liberation Sans, sans-serif" font-size="11.8" fill="#4D4D4D" text-anchor="middle">4</text>
<line x1="123.02" x2="123.02" y1="276.4" y2="281.0" stroke="#333333" stroke-width="1.07"/>
<text x="123.02" y="293.0" font-family="Liberation Sans, sans-serif" font-size="11.8" fill="#4D4D4D" text-anchor="middle">6</text>
<line x1="145.31" x2="145.31" y1="276.4" y2="281.0" stroke="#333333" stroke-width="1.07"/>
<text x="145.31" y="293.0" font-family="Liberation Sans, sans-serif" font-size="11.8" fill="#4D4D4D" text-anchor="middle">8</text>
<line x1="167.6" x2="167.6" y1="276.4" y2="281.0" stroke="#333333" stroke-width="1.07"/>
<text x="167.6" y="293.0" font-family="Liberation Sans, sans-serif" font-size="11.8" fill="#4D4D4D" text-anchor="middle">10</text>
<line x1="197.16" x2="197.16" y1="276.4" y2="281.0" stroke="#333333" stroke-width="1.07"/>
<text x="197.16" y="293.0" font-family="Liberation Sans, sans-serif" font-size="11.8" fill="#4D4D4D" text-anchor="middle">2</text>
<line x1="219.45" x2="219.45" y1="276.4" y2="281.0" stroke="#333333" stroke-width="1.07"/>
<text x="219.45" y="293.0" font-family="Liberation Sans, sans-serif" font-size="11.8" fill="#4D4D4D" text-anchor="middle">4</text>
<line x1="241.74" x2="241.74" y1="276.4" y2="281.0" stroke="#333333" stroke-width="1.07"/>
<text x="241.74" y="293.0" font-family="Liberation Sans, sans-serif" font-size="11.8" fill="#4D4D4D" text-anchor="middle">6</text>
<line x1="264.03" x2="264.03" y1="276.4" y2="281.0" stroke="#333333" stroke-width="1.07"/>
<text x="264.03" y="293.0" font-family="Liberation Sans, sans-serif" font-size="11.8" fill="#4D4D4D" text-anchor="middle">8</text>
<line x1="286.32" x2="286.32" y1="276.4" y2="281.0" stroke="#333333" stroke-width="1.07"/>
<text x="286.32" y="293.0" font-family="Liberation Sans, sans-serif" font-size="11.8" fill="#4D4D4D" text-anchor="middle">10</text>
<line x1="315.88" x2="315.88" y1="276.4" y2="281.0" stroke="#333333" stroke-width="1.07"/>
<text x="315.88" y="293.0" font-family="Liberation Sans, sans-serif" font-size="11.8" fill="#4D4D4D" text-anchor="middle">2</text>
<line x1="338.17" x2="338.17" y1="276.4" y2="281.0" stroke="#333333" stroke-width="1.07"/>
<text x="338.17" y="293.0" font-family="Liberation Sans, sans-serif" font-size="11.8" fill="#4D4D4D" text-anchor="middle">4</text>
<line x1="360.46" x2="360.46" y1="276.4" y2="281.0" stroke="#333333" stroke-width="1.07"/>
<text x="360.46" y="293.0" font-family="Liberation Sans, sans-serif" font-size="11.8" fill="#4D4D4D" text-anchor="middle">6</text>
<line x1="382.75" x2="382.75" y1="276.4" y2="281.0" stroke="#333333" stroke-width="1.07"/>
<text x="382.75" y="293.0" font-family="Liberation Sans, sans-serif" font-size="11.8" fill="#4D4D4D" text-anchor="middle">8</text>
<line x1="405.04" x2="405.04" y1="276.4" y2="281.0" stroke="#333333" stroke-width="1.07"/>
<text x="405.04" y="293.0" font-family="Liberation Sans, sans-serif" font-size="11.8" fill="#4D4D4D" text-anchor="middle">10</text>
<line x1="434.6" x2="434.6" y1="276.4" y2="281.0" stroke="#333333" stroke-width="1.07"/>
<text x="434.6" y="293.0" font-family="Liberation Sans, sans-serif" font-size="11.8" fill="#4D4D4D" text-anchor="middle">2</text>
<line x1="456.89" x2="456.89" y1="276.4" y2="281.0" stroke="#333333" stroke-width="1.07"/>
<text x="456.89" y="293.0" font-family="Liberation Sans, sans-serif" font-size="11.8" fill="#4D4D4D" text-anchor="middle">4</text>
<line x1="479.18" x2="479.18" y1="276.4" y2="281.0" stroke="#333333" stroke-width="1.07"/>
<text x="479.18" y="293.0" font-family="Liberation Sans, sans-serif" font-size="11.8" fill="#4D4D4D" text-anchor="middle">6</text>
<line x1="501.47" x2="501.47" y1="276.4" y2="281.0" stroke="#333333" stroke-width="1.07"/>
<text x="501.47" y="293.0" font-family="Liberation Sans, sans-serif" font-size="11.8" fill="#4D4D4D" text-anchor="middle">8</text>
<line x1="523.76" x2="523.76" y1="276.4" y2="281.0" stroke="#333333" stroke-width="1.07"/>
<text x="523.76" y="293.0" font-family="Liberation Sans, sans-serif" font-size="11.8" fill="#4D4D4D" text-anchor="middle">10</text>
<line x1="553.32" x2="553.32" y1="276.4" y2="281.0" stroke="#333333" stroke-width="1.07"/>
<text x="553.32" y="293.0" font-family="Liberation Sans, sans-serif" font-size="11.8" fill="#4D4D4D" text-anchor="middle">2</text>
<line x1="575.61" x2="575.61" y1="276.4" y2="281.0" stroke="#333333" stroke-width="1.07"/>
<text x="575.61" y="293.0" font-family="Liberation Sans, sans-serif" font-size="11.8" fill="#4D4D4D" text-anchor="middle">4</text>
<line x1="597.9" x2="597.9" y1="276.4" y2="281.0" stroke="#333333" stroke-width="1.07"/>
<text x="597.9" y="293.0" font-family="Liberation Sans, sans-serif" font-size="11.8" fill="#4D4D4D" text-anchor="middle">6</text>
<line x1="620.19" x2="620.19" y1="276.4" y2="281.0" stroke="#333333" stroke-width="1.07"/>
<text x="620.19" y="293.0" font-family="Liberation Sans, sans-serif" font-size="11.8" fill="#4D4D4D" text-anchor="middle">8</text>
<line x1="642.48" x2="642.48" y1="276.4" y2="281.0" stroke="#333333" stroke-width="1.07"/>
<text x="642.48" y="293.0" font-family="Liberation Sans, sans-serif" font-size="11.8" fill="#4D4D4D" text-anchor="middle">10</text>
<text x="354.8" y="313.5" font-family="Liberation Sans, sans-serif" font-size="14.7" fill="#000" text-anchor="middle">Social Vulnerability Index Decile</text>
<text transform="translate(24.4,157.7) rotate(-90)" font-family="Liberation Sans, sans-serif" font-size="14.8" fill="#000" text-anchor="middle">Smoke Exposure (µg m<tspan dy="-7.2" font-size="10.3">−3</tspan><tspan dy="7.2">)</tspan></text>
<text x="-0.5" y="8.7" font-family="Liberation Sans, sans-serif" font-size="14.3" font-weight="bold" fill="#000">a.</text>
<defs><linearGradient id="ga" x1="0" x2="1" y1="0" y2="0"><stop offset="0" stop-color="#E39F45"/><stop offset="0.068" stop-color="#E4A451"/><stop offset="0.158" stop-color="#E9B46C"/><stop offset="0.249" stop-color="#EEC58C"/><stop offset="0.287" stop-color="#F0CC99"/><stop offset="0.34" stop-color="#F3D9B2"/><stop offset="0.384" stop-color="#F5E3C6"/><stop offset="0.43" stop-color="#F9EFDF"/><stop offset="0.474" stop-color="#FCF9F4"/><stop offset="0.5" stop-color="#FFFFFF"/><stop offset="0.542" stop-color="#EFEBF5"/><stop offset="0.587" stop-color="#E1D8EC"/><stop offset="0.632" stop-color="#D3C6E3"/><stop offset="0.677" stop-color="#C5B5DB"/><stop offset="0.713" stop-color="#B9A5D4"/><stop offset="0.767" stop-color="#A285C4"/><stop offset="0.835" stop-color="#8E6BB6"/><stop offset="0.925" stop-color="#7646A4"/><stop offset="0.97" stop-color="#633596"/><stop offset="1.0" stop-color="#55278C"/></linearGradient></defs>
<rect x="295" y="325.9" width="221.3" height="17.9" fill="url(#ga)"/>
<line x1="310.8" x2="310.8" y1="325.9" y2="329.5" stroke="#fff" stroke-width="0.8" opacity="0.7"/>
<line x1="310.8" x2="310.8" y1="340.2" y2="343.8" stroke="#fff" stroke-width="0.8" opacity="0.7"/>
<text x="310.8" y="361" font-family="Liberation Sans, sans-serif" font-size="11.8" fill="#000" text-anchor="middle">4%</text>
<line x1="358.2" x2="358.2" y1="325.9" y2="329.5" stroke="#fff" stroke-width="0.8" opacity="0.7"/>
<line x1="358.2" x2="358.2" y1="340.2" y2="343.8" stroke="#fff" stroke-width="0.8" opacity="0.7"/>
<text x="358.2" y="361" font-family="Liberation Sans, sans-serif" font-size="11.8" fill="#000" text-anchor="middle">7%</text>
<line x1="405.6" x2="405.6" y1="325.9" y2="329.5" stroke="#fff" stroke-width="0.8" opacity="0.7"/>
<line x1="405.6" x2="405.6" y1="340.2" y2="343.8" stroke="#fff" stroke-width="0.8" opacity="0.7"/>
<text x="405.6" y="361" font-family="Liberation Sans, sans-serif" font-size="11.8" fill="#000" text-anchor="middle">10%</text>
<line x1="453" x2="453" y1="325.9" y2="329.5" stroke="#fff" stroke-width="0.8" opacity="0.7"/>
<line x1="453" x2="453" y1="340.2" y2="343.8" stroke="#fff" stroke-width="0.8" opacity="0.7"/>
<text x="453" y="361" font-family="Liberation Sans, sans-serif" font-size="11.8" fill="#000" text-anchor="middle">13%</text>
<line x1="500.4" x2="500.4" y1="325.9" y2="329.5" stroke="#fff" stroke-width="0.8" opacity="0.7"/>
<line x1="500.4" x2="500.4" y1="340.2" y2="343.8" stroke="#fff" stroke-width="0.8" opacity="0.7"/>
<text x="500.4" y="361" font-family="Liberation Sans, sans-serif" font-size="11.8" fill="#000" text-anchor="middle">16%</text>
<text x="194" y="340.9" font-family="Liberation Sans, sans-serif" font-size="14.6" font-weight="bold" fill="#000">Percentage</text>
<text x="194" y="357" font-family="Liberation Sans, sans-serif" font-size="14.6" font-weight="bold" fill="#000">of Population</text>
<rect x="62.9" y="403.2" width="155.3" height="109.1" fill="#fff"/>
<line x1="62.9" x2="218.2" y1="507.5" y2="507.5" stroke="#EBEBEB" stroke-width="0.55"/>
<line x1="62.9" x2="218.2" y1="485.39" y2="485.39" stroke="#EBEBEB" stroke-width="0.55"/>
<line x1="62.9" x2="218.2" y1="463.28" y2="463.28" stroke="#EBEBEB" stroke-width="0.55"/>
<line x1="62.9" x2="218.2" y1="441.17" y2="441.17" stroke="#EBEBEB" stroke-width="0.55"/>
<line x1="62.9" x2="218.2" y1="419.06" y2="419.06" stroke="#EBEBEB" stroke-width="0.55"/>
<line x1="73.53" x2="73.53" y1="403.2" y2="512.3" stroke="#EBEBEB" stroke-width="0.55"/>
<line x1="115.78" x2="115.78" y1="403.2" y2="512.3" stroke="#EBEBEB" stroke-width="0.55"/>
<line x1="158.03" x2="158.03" y1="403.2" y2="512.3" stroke="#EBEBEB" stroke-width="0.55"/>
<line x1="200.28" x2="200.28" y1="403.2" y2="512.3" stroke="#EBEBEB" stroke-width="0.55"/>
<line x1="62.9" x2="218.2" y1="496.45" y2="496.45" stroke="#EBEBEB" stroke-width="1.07"/>
<line x1="62.9" x2="218.2" y1="474.34" y2="474.34" stroke="#EBEBEB" stroke-width="1.07"/>
<line x1="62.9" x2="218.2" y1="452.22" y2="452.22" stroke="#EBEBEB" stroke-width="1.07"/>
<line x1="62.9" x2="218.2" y1="430.11" y2="430.11" stroke="#EBEBEB" stroke-width="1.07"/>
<line x1="62.9" x2="218.2" y1="408" y2="408" stroke="#EBEBEB" stroke-width="1.07"/>
<line x1="94.65" x2="94.65" y1="403.2" y2="512.3" stroke="#EBEBEB" stroke-width="1.07"/>
<line x1="136.9" x2="136.9" y1="403.2" y2="512.3" stroke="#EBEBEB" stroke-width="1.07"/>
<line x1="179.15" x2="179.15" y1="403.2" y2="512.3" stroke="#EBEBEB" stroke-width="1.07"/>
<line x1="136.9" x2="136.9" y1="403.2" y2="512.3" stroke="#444" stroke-width="1.07" stroke-dasharray="3.15 3.15" stroke-dashoffset="1.0"/>
<path d="M211.43 405L214.43 408L211.43 411L208.43 408Z" fill="none" stroke="#C2C2C2" stroke-width="1.2"/>
<path d="M170.36 416.06L173.36 419.06L170.36 422.06L167.36 419.06Z" fill="none" stroke="#C2C2C2" stroke-width="1.2"/>
<path d="M155.49 427.11L158.49 430.11L155.49 433.11L152.49 430.11Z" fill="none" stroke="#C2C2C2" stroke-width="1.2"/>
<path d="M150.08 438.17L153.08 441.17L150.08 444.17L147.08 441.17Z" fill="none" stroke="#C2C2C2" stroke-width="1.2"/>
<path d="M149.24 449.22L152.24 452.22L149.24 455.22L146.24 452.22Z" fill="none" stroke="#C2C2C2" stroke-width="1.2"/>
<path d="M130.48 460.28L133.48 463.28L130.48 466.28L127.48 463.28Z" fill="none" stroke="#C2C2C2" stroke-width="1.2"/>
<path d="M117.97 471.34L120.97 474.34L117.97 477.34L114.97 474.34Z" fill="none" stroke="#C2C2C2" stroke-width="1.2"/>
<path d="M119.49 482.39L122.49 485.39L119.49 488.39L116.49 485.39Z" fill="none" stroke="#C2C2C2" stroke-width="1.2"/>
<path d="M100.4 493.45L103.4 496.45L100.4 499.45L97.4 496.45Z" fill="none" stroke="#C2C2C2" stroke-width="1.2"/>
<path d="M69.98 504.5L72.98 507.5L69.98 510.5L66.98 507.5Z" fill="none" stroke="#C2C2C2" stroke-width="1.2"/>
<path d="M202.47 405L205.47 408L202.47 411L199.47 408Z" fill="none" stroke="#FF2424" stroke-width="1.2"/>
<path d="M169.35 416.06L172.35 419.06L169.35 422.06L166.35 419.06Z" fill="none" stroke="#FF2424" stroke-width="1.2"/>
<path d="M153.46 427.11L156.46 430.11L153.46 433.11L150.46 430.11Z" fill="none" stroke="#FF2424" stroke-width="1.2"/>
<path d="M144.17 438.17L147.17 441.17L144.17 444.17L141.17 441.17Z" fill="none" stroke="#FF2424" stroke-width="1.2"/>
<path d="M138.42 449.22L141.42 452.22L138.42 455.22L135.42 452.22Z" fill="none" stroke="#FF2424" stroke-width="1.2"/>
<path d="M130.48 460.28L133.48 463.28L130.48 466.28L127.48 463.28Z" fill="none" stroke="#FF2424" stroke-width="1.2"/>
<path d="M124.06 471.34L127.06 474.34L124.06 477.34L121.06 474.34Z" fill="none" stroke="#FF2424" stroke-width="1.2"/>
<path d="M122.54 482.39L125.54 485.39L122.54 488.39L119.54 485.39Z" fill="none" stroke="#FF2424" stroke-width="1.2"/>
<path d="M109.86 493.45L112.86 496.45L109.86 499.45L106.86 496.45Z" fill="none" stroke="#FF2424" stroke-width="1.2"/>
<path d="M79.1 504.5L82.1 507.5L79.1 510.5L76.1 507.5Z" fill="none" stroke="#FF2424" stroke-width="1.2"/>
<rect x="62.9" y="403.2" width="155.3" height="109.1" fill="none" stroke="#333333" stroke-width="0.8"/>
<rect x="227.35" y="403.2" width="155.3" height="109.1" fill="#fff"/>
<line x1="227.35" x2="382.65" y1="507.5" y2="507.5" stroke="#EBEBEB" stroke-width="0.55"/>
<line x1="227.35" x2="382.65" y1="485.39" y2="485.39" stroke="#EBEBEB" stroke-width="0.55"/>
<line x1="227.35" x2="382.65" y1="463.28" y2="463.28" stroke="#EBEBEB" stroke-width="0.55"/>
<line x1="227.35" x2="382.65" y1="441.17" y2="441.17" stroke="#EBEBEB" stroke-width="0.55"/>
<line x1="227.35" x2="382.65" y1="419.06" y2="419.06" stroke="#EBEBEB" stroke-width="0.55"/>
<line x1="237.82" x2="237.82" y1="403.2" y2="512.3" stroke="#EBEBEB" stroke-width="0.55"/>
<line x1="280.07" x2="280.07" y1="403.2" y2="512.3" stroke="#EBEBEB" stroke-width="0.55"/>
<line x1="322.32" x2="322.32" y1="403.2" y2="512.3" stroke="#EBEBEB" stroke-width="0.55"/>
<line x1="364.57" x2="364.57" y1="403.2" y2="512.3" stroke="#EBEBEB" stroke-width="0.55"/>
<line x1="227.35" x2="382.65" y1="496.45" y2="496.45" stroke="#EBEBEB" stroke-width="1.07"/>
<line x1="227.35" x2="382.65" y1="474.34" y2="474.34" stroke="#EBEBEB" stroke-width="1.07"/>
<line x1="227.35" x2="382.65" y1="452.22" y2="452.22" stroke="#EBEBEB" stroke-width="1.07"/>
<line x1="227.35" x2="382.65" y1="430.11" y2="430.11" stroke="#EBEBEB" stroke-width="1.07"/>
<line x1="227.35" x2="382.65" y1="408" y2="408" stroke="#EBEBEB" stroke-width="1.07"/>
<line x1="258.95" x2="258.95" y1="403.2" y2="512.3" stroke="#EBEBEB" stroke-width="1.07"/>
<line x1="301.2" x2="301.2" y1="403.2" y2="512.3" stroke="#EBEBEB" stroke-width="1.07"/>
<line x1="343.45" x2="343.45" y1="403.2" y2="512.3" stroke="#EBEBEB" stroke-width="1.07"/>
<line x1="301.2" x2="301.2" y1="403.2" y2="512.3" stroke="#444" stroke-width="1.07" stroke-dasharray="3.15 3.15" stroke-dashoffset="1.0"/>
<path d="M375.9 405L378.9 408L375.9 411L372.9 408Z" fill="none" stroke="#C2C2C2" stroke-width="1.2"/>
<path d="M335.34 416.06L338.34 419.06L335.34 422.06L332.34 419.06Z" fill="none" stroke="#C2C2C2" stroke-width="1.2"/>
<path d="M319.96 427.11L322.96 430.11L319.96 433.11L316.96 430.11Z" fill="none" stroke="#C2C2C2" stroke-width="1.2"/>
<path d="M314.04 438.17L317.04 441.17L314.04 444.17L311.04 441.17Z" fill="none" stroke="#C2C2C2" stroke-width="1.2"/>
<path d="M313.37 449.22L316.37 452.22L313.37 455.22L310.37 452.22Z" fill="none" stroke="#C2C2C2" stroke-width="1.2"/>
<path d="M294.61 460.28L297.61 463.28L294.61 466.28L291.61 463.28Z" fill="none" stroke="#C2C2C2" stroke-width="1.2"/>
<path d="M282.44 471.34L285.44 474.34L282.44 477.34L279.44 474.34Z" fill="none" stroke="#C2C2C2" stroke-width="1.2"/>
<path d="M283.62 482.39L286.62 485.39L283.62 488.39L280.62 485.39Z" fill="none" stroke="#C2C2C2" stroke-width="1.2"/>
<path d="M264.7 493.45L267.7 496.45L264.7 499.45L261.7 496.45Z" fill="none" stroke="#C2C2C2" stroke-width="1.2"/>
<path d="M234.28 504.5L237.28 507.5L234.28 510.5L231.28 507.5Z" fill="none" stroke="#C2C2C2" stroke-width="1.2"/>
<path d="M300.61 405L303.61 408L300.61 411L297.61 408Z" fill="none" stroke="#FF2424" stroke-width="1.2"/>
<path d="M303.23 416.06L306.23 419.06L303.23 422.06L300.23 419.06Z" fill="none" stroke="#FF2424" stroke-width="1.2"/>
<path d="M305.26 427.11L308.26 430.11L305.26 433.11L302.26 430.11Z" fill="none" stroke="#FF2424" stroke-width="1.2"/>
<path d="M307.28 438.17L310.28 441.17L307.28 444.17L304.28 441.17Z" fill="none" stroke="#FF2424" stroke-width="1.2"/>
<path d="M306.95 449.22L309.95 452.22L306.95 455.22L303.95 452.22Z" fill="none" stroke="#FF2424" stroke-width="1.2"/>
<path d="M302.38 460.28L305.38 463.28L302.38 466.28L299.38 463.28Z" fill="none" stroke="#FF2424" stroke-width="1.2"/>
<path d="M298.83 471.34L301.83 474.34L298.83 477.34L295.83 474.34Z" fill="none" stroke="#FF2424" stroke-width="1.2"/>
<path d="M297.48 482.39L300.48 485.39L297.48 488.39L294.48 485.39Z" fill="none" stroke="#FF2424" stroke-width="1.2"/>
<path d="M294.78 493.45L297.78 496.45L294.78 499.45L291.78 496.45Z" fill="none" stroke="#FF2424" stroke-width="1.2"/>
<path d="M293.59 504.5L296.59 507.5L293.59 510.5L290.59 507.5Z" fill="none" stroke="#FF2424" stroke-width="1.2"/>
<rect x="227.35" y="403.2" width="155.3" height="109.1" fill="none" stroke="#333333" stroke-width="0.8"/>
<line x1="58.7" x2="62.9" y1="496.45" y2="496.45" stroke="#333333" stroke-width="1.07"/>
<text x="55.6" y="500.55" font-family="Liberation Sans, sans-serif" font-size="11.8" fill="#4D4D4D" text-anchor="end">2</text>
<line x1="58.7" x2="62.9" y1="474.34" y2="474.34" stroke="#333333" stroke-width="1.07"/>
<text x="55.6" y="478.44" font-family="Liberation Sans, sans-serif" font-size="11.8" fill="#4D4D4D" text-anchor="end">4</text>
<line x1="58.7" x2="62.9" y1="452.22" y2="452.22" stroke="#333333" stroke-width="1.07"/>
<text x="55.6" y="456.32" font-family="Liberation Sans, sans-serif" font-size="11.8" fill="#4D4D4D" text-anchor="end">6</text>
<line x1="58.7" x2="62.9" y1="430.11" y2="430.11" stroke="#333333" stroke-width="1.07"/>
<text x="55.6" y="434.21" font-family="Liberation Sans, sans-serif" font-size="11.8" fill="#4D4D4D" text-anchor="end">8</text>
<line x1="58.7" x2="62.9" y1="408" y2="408" stroke="#333333" stroke-width="1.07"/>
<text x="55.6" y="412.1" font-family="Liberation Sans, sans-serif" font-size="11.8" fill="#4D4D4D" text-anchor="end">10</text>
<rect x="62.9" y="521.35" width="155.3" height="108.55" fill="#fff"/>
<line x1="62.9" x2="218.2" y1="625.2" y2="625.2" stroke="#EBEBEB" stroke-width="0.55"/>
<line x1="62.9" x2="218.2" y1="603.07" y2="603.07" stroke="#EBEBEB" stroke-width="0.55"/>
<line x1="62.9" x2="218.2" y1="580.94" y2="580.94" stroke="#EBEBEB" stroke-width="0.55"/>
<line x1="62.9" x2="218.2" y1="558.8" y2="558.8" stroke="#EBEBEB" stroke-width="0.55"/>
<line x1="62.9" x2="218.2" y1="536.67" y2="536.67" stroke="#EBEBEB" stroke-width="0.55"/>
<line x1="73.53" x2="73.53" y1="521.35" y2="629.9" stroke="#EBEBEB" stroke-width="0.55"/>
<line x1="115.78" x2="115.78" y1="521.35" y2="629.9" stroke="#EBEBEB" stroke-width="0.55"/>
<line x1="158.03" x2="158.03" y1="521.35" y2="629.9" stroke="#EBEBEB" stroke-width="0.55"/>
<line x1="200.28" x2="200.28" y1="521.35" y2="629.9" stroke="#EBEBEB" stroke-width="0.55"/>
<line x1="62.9" x2="218.2" y1="614.14" y2="614.14" stroke="#EBEBEB" stroke-width="1.07"/>
<line x1="62.9" x2="218.2" y1="592" y2="592" stroke="#EBEBEB" stroke-width="1.07"/>
<line x1="62.9" x2="218.2" y1="569.87" y2="569.87" stroke="#EBEBEB" stroke-width="1.07"/>
<line x1="62.9" x2="218.2" y1="547.73" y2="547.73" stroke="#EBEBEB" stroke-width="1.07"/>
<line x1="62.9" x2="218.2" y1="525.6" y2="525.6" stroke="#EBEBEB" stroke-width="1.07"/>
<line x1="94.65" x2="94.65" y1="521.35" y2="629.9" stroke="#EBEBEB" stroke-width="1.07"/>
<line x1="136.9" x2="136.9" y1="521.35" y2="629.9" stroke="#EBEBEB" stroke-width="1.07"/>
<line x1="179.15" x2="179.15" y1="521.35" y2="629.9" stroke="#EBEBEB" stroke-width="1.07"/>
<line x1="136.9" x2="136.9" y1="521.35" y2="629.9" stroke="#444" stroke-width="1.07" stroke-dasharray="3.15 3.15" stroke-dashoffset="1.0"/>
<path d="M119.49 522.6L122.49 525.6L119.49 528.6L116.49 525.6Z" fill="none" stroke="#C2C2C2" stroke-width="1.2"/>
<path d="M149.24 533.67L152.24 536.67L149.24 539.67L146.24 536.67Z" fill="none" stroke="#C2C2C2" stroke-width="1.2"/>
<path d="M157.86 544.73L160.86 547.73L157.86 550.73L154.86 547.73Z" fill="none" stroke="#C2C2C2" stroke-width="1.2"/>
<path d="M163.26 555.8L166.26 558.8L163.26 561.8L160.26 558.8Z" fill="none" stroke="#C2C2C2" stroke-width="1.2"/>
<path d="M149.24 566.87L152.24 569.87L149.24 572.87L146.24 569.87Z" fill="none" stroke="#C2C2C2" stroke-width="1.2"/>
<path d="M139.6 577.94L142.6 580.94L139.6 583.94L136.6 580.94Z" fill="none" stroke="#C2C2C2" stroke-width="1.2"/>
<path d="M134.37 589L137.37 592L134.37 595L131.37 592Z" fill="none" stroke="#C2C2C2" stroke-width="1.2"/>
<path d="M120.84 600.07L123.84 603.07L120.84 606.07L117.84 603.07Z" fill="none" stroke="#C2C2C2" stroke-width="1.2"/>
<path d="M116.96 611.14L119.96 614.14L116.96 617.14L113.96 614.14Z" fill="none" stroke="#C2C2C2" stroke-width="1.2"/>
<path d="M116.96 622.2L119.96 625.2L116.96 628.2L113.96 625.2Z" fill="none" stroke="#C2C2C2" stroke-width="1.2"/>
<path d="M123.72 522.6L126.72 525.6L123.72 528.6L120.72 525.6Z" fill="none" stroke="#FF2424" stroke-width="1.2"/>
<path d="M148.39 533.67L151.39 536.67L148.39 539.67L145.39 536.67Z" fill="none" stroke="#FF2424" stroke-width="1.2"/>
<path d="M154.81 544.73L157.81 547.73L154.81 550.73L151.81 547.73Z" fill="none" stroke="#FF2424" stroke-width="1.2"/>
<path d="M158.03 555.8L161.03 558.8L158.03 561.8L155.03 558.8Z" fill="none" stroke="#FF2424" stroke-width="1.2"/>
<path d="M146.36 566.87L149.36 569.87L146.36 572.87L143.36 569.87Z" fill="none" stroke="#FF2424" stroke-width="1.2"/>
<path d="M139.6 577.94L142.6 580.94L139.6 583.94L136.6 580.94Z" fill="none" stroke="#FF2424" stroke-width="1.2"/>
<path d="M134.37 589L137.37 592L134.37 595L131.37 592Z" fill="none" stroke="#FF2424" stroke-width="1.2"/>
<path d="M124.56 600.07L127.56 603.07L124.56 606.07L121.56 603.07Z" fill="none" stroke="#FF2424" stroke-width="1.2"/>
<path d="M118.82 611.14L121.82 614.14L118.82 617.14L115.82 614.14Z" fill="none" stroke="#FF2424" stroke-width="1.2"/>
<path d="M121.52 622.2L124.52 625.2L121.52 628.2L118.52 625.2Z" fill="none" stroke="#FF2424" stroke-width="1.2"/>
<rect x="62.9" y="521.35" width="155.3" height="108.55" fill="none" stroke="#333333" stroke-width="0.8"/>
<rect x="227.35" y="521.35" width="155.3" height="108.55" fill="#fff"/>
<line x1="227.35" x2="382.65" y1="625.2" y2="625.2" stroke="#EBEBEB" stroke-width="0.55"/>
<line x1="227.35" x2="382.65" y1="603.07" y2="603.07" stroke="#EBEBEB" stroke-width="0.55"/>
<line x1="227.35" x2="382.65" y1="580.94" y2="580.94" stroke="#EBEBEB" stroke-width="0.55"/>
<line x1="227.35" x2="382.65" y1="558.8" y2="558.8" stroke="#EBEBEB" stroke-width="0.55"/>
<line x1="227.35" x2="382.65" y1="536.67" y2="536.67" stroke="#EBEBEB" stroke-width="0.55"/>
<line x1="237.82" x2="237.82" y1="521.35" y2="629.9" stroke="#EBEBEB" stroke-width="0.55"/>
<line x1="280.07" x2="280.07" y1="521.35" y2="629.9" stroke="#EBEBEB" stroke-width="0.55"/>
<line x1="322.32" x2="322.32" y1="521.35" y2="629.9" stroke="#EBEBEB" stroke-width="0.55"/>
<line x1="364.57" x2="364.57" y1="521.35" y2="629.9" stroke="#EBEBEB" stroke-width="0.55"/>
<line x1="227.35" x2="382.65" y1="614.14" y2="614.14" stroke="#EBEBEB" stroke-width="1.07"/>
<line x1="227.35" x2="382.65" y1="592" y2="592" stroke="#EBEBEB" stroke-width="1.07"/>
<line x1="227.35" x2="382.65" y1="569.87" y2="569.87" stroke="#EBEBEB" stroke-width="1.07"/>
<line x1="227.35" x2="382.65" y1="547.73" y2="547.73" stroke="#EBEBEB" stroke-width="1.07"/>
<line x1="227.35" x2="382.65" y1="525.6" y2="525.6" stroke="#EBEBEB" stroke-width="1.07"/>
<line x1="258.95" x2="258.95" y1="521.35" y2="629.9" stroke="#EBEBEB" stroke-width="1.07"/>
<line x1="301.2" x2="301.2" y1="521.35" y2="629.9" stroke="#EBEBEB" stroke-width="1.07"/>
<line x1="343.45" x2="343.45" y1="521.35" y2="629.9" stroke="#EBEBEB" stroke-width="1.07"/>
<line x1="301.2" x2="301.2" y1="521.35" y2="629.9" stroke="#444" stroke-width="1.07" stroke-dasharray="3.15 3.15" stroke-dashoffset="1.0"/>
<path d="M283.62 522.6L286.62 525.6L283.62 528.6L280.62 525.6Z" fill="none" stroke="#C2C2C2" stroke-width="1.2"/>
<path d="M314.04 533.67L317.04 536.67L314.04 539.67L311.04 536.67Z" fill="none" stroke="#C2C2C2" stroke-width="1.2"/>
<path d="M321.99 544.73L324.99 547.73L321.99 550.73L318.99 547.73Z" fill="none" stroke="#C2C2C2" stroke-width="1.2"/>
<path d="M327.06 555.8L330.06 558.8L327.06 561.8L324.06 558.8Z" fill="none" stroke="#C2C2C2" stroke-width="1.2"/>
<path d="M313.37 566.87L316.37 569.87L313.37 572.87L310.37 569.87Z" fill="none" stroke="#C2C2C2" stroke-width="1.2"/>
<path d="M303.9 577.94L306.9 580.94L303.9 583.94L300.9 580.94Z" fill="none" stroke="#C2C2C2" stroke-width="1.2"/>
<path d="M298.33 589L301.33 592L298.33 595L295.33 592Z" fill="none" stroke="#C2C2C2" stroke-width="1.2"/>
<path d="M285.48 600.07L288.48 603.07L285.48 606.07L282.48 603.07Z" fill="none" stroke="#C2C2C2" stroke-width="1.2"/>
<path d="M280.58 611.14L283.58 614.14L280.58 617.14L277.58 614.14Z" fill="none" stroke="#C2C2C2" stroke-width="1.2"/>
<path d="M281.43 622.2L284.43 625.2L281.43 628.2L278.43 625.2Z" fill="none" stroke="#C2C2C2" stroke-width="1.2"/>
<path d="M297.99 522.6L300.99 525.6L297.99 528.6L294.99 525.6Z" fill="none" stroke="#FF2424" stroke-width="1.2"/>
<path d="M300.35 533.67L303.35 536.67L300.35 539.67L297.35 536.67Z" fill="none" stroke="#FF2424" stroke-width="1.2"/>
<path d="M302.72 544.73L305.72 547.73L302.72 550.73L299.72 547.73Z" fill="none" stroke="#FF2424" stroke-width="1.2"/>
<path d="M303.57 555.8L306.57 558.8L303.57 561.8L300.57 558.8Z" fill="none" stroke="#FF2424" stroke-width="1.2"/>
<path d="M303.23 566.87L306.23 569.87L303.23 572.87L300.23 569.87Z" fill="none" stroke="#FF2424" stroke-width="1.2"/>
<path d="M301.88 577.94L304.88 580.94L301.88 583.94L298.88 580.94Z" fill="none" stroke="#FF2424" stroke-width="1.2"/>
<path d="M301.88 589L304.88 592L301.88 595L298.88 592Z" fill="none" stroke="#FF2424" stroke-width="1.2"/>
<path d="M298.83 600.07L301.83 603.07L298.83 606.07L295.83 603.07Z" fill="none" stroke="#FF2424" stroke-width="1.2"/>
<path d="M299.34 611.14L302.34 614.14L299.34 617.14L296.34 614.14Z" fill="none" stroke="#FF2424" stroke-width="1.2"/>
<path d="M299.68 622.2L302.68 625.2L299.68 628.2L296.68 625.2Z" fill="none" stroke="#FF2424" stroke-width="1.2"/>
<rect x="227.35" y="521.35" width="155.3" height="108.55" fill="none" stroke="#333333" stroke-width="0.8"/>
<line x1="58.7" x2="62.9" y1="614.14" y2="614.14" stroke="#333333" stroke-width="1.07"/>
<text x="55.6" y="618.24" font-family="Liberation Sans, sans-serif" font-size="11.8" fill="#4D4D4D" text-anchor="end">2</text>
<line x1="58.7" x2="62.9" y1="592" y2="592" stroke="#333333" stroke-width="1.07"/>
<text x="55.6" y="596.1" font-family="Liberation Sans, sans-serif" font-size="11.8" fill="#4D4D4D" text-anchor="end">4</text>
<line x1="58.7" x2="62.9" y1="569.87" y2="569.87" stroke="#333333" stroke-width="1.07"/>
<text x="55.6" y="573.97" font-family="Liberation Sans, sans-serif" font-size="11.8" fill="#4D4D4D" text-anchor="end">6</text>
<line x1="58.7" x2="62.9" y1="547.73" y2="547.73" stroke="#333333" stroke-width="1.07"/>
<text x="55.6" y="551.83" font-family="Liberation Sans, sans-serif" font-size="11.8" fill="#4D4D4D" text-anchor="end">8</text>
<line x1="58.7" x2="62.9" y1="525.6" y2="525.6" stroke="#333333" stroke-width="1.07"/>
<text x="55.6" y="529.7" font-family="Liberation Sans, sans-serif" font-size="11.8" fill="#4D4D4D" text-anchor="end">10</text>
<line x1="94.65" x2="94.65" y1="629.9" y2="634.4" stroke="#333333" stroke-width="1.07"/>
<text x="94.65" y="646.4" font-family="Liberation Sans, sans-serif" font-size="11.8" fill="#4D4D4D" text-anchor="middle">-25</text>
<line x1="136.9" x2="136.9" y1="629.9" y2="634.4" stroke="#333333" stroke-width="1.07"/>
<text x="136.9" y="646.4" font-family="Liberation Sans, sans-serif" font-size="11.8" fill="#4D4D4D" text-anchor="middle">0</text>
<line x1="179.15" x2="179.15" y1="629.9" y2="634.4" stroke="#333333" stroke-width="1.07"/>
<text x="179.15" y="646.4" font-family="Liberation Sans, sans-serif" font-size="11.8" fill="#4D4D4D" text-anchor="middle">25</text>
<line x1="258.95" x2="258.95" y1="629.9" y2="634.4" stroke="#333333" stroke-width="1.07"/>
<text x="258.95" y="646.4" font-family="Liberation Sans, sans-serif" font-size="11.8" fill="#4D4D4D" text-anchor="middle">-25</text>
<line x1="301.2" x2="301.2" y1="629.9" y2="634.4" stroke="#333333" stroke-width="1.07"/>
<text x="301.2" y="646.4" font-family="Liberation Sans, sans-serif" font-size="11.8" fill="#4D4D4D" text-anchor="middle">0</text>
<line x1="343.45" x2="343.45" y1="629.9" y2="634.4" stroke="#333333" stroke-width="1.07"/>
<text x="343.45" y="646.4" font-family="Liberation Sans, sans-serif" font-size="11.8" fill="#4D4D4D" text-anchor="middle">25</text>
<rect x="62.9" y="379.3" width="155.3" height="23.3" fill="#D9D9D9" stroke="#333333" stroke-width="0.8"/>
<text x="140.55" y="395.3" font-family="Liberation Sans, sans-serif" font-size="11.7" font-weight="bold" fill="#1A1A1A" text-anchor="middle">Between States</text>
<rect x="227.35" y="379.3" width="155.3" height="23.3" fill="#D9D9D9" stroke="#333333" stroke-width="0.8"/>
<text x="305" y="395.3" font-family="Liberation Sans, sans-serif" font-size="11.7" font-weight="bold" fill="#1A1A1A" text-anchor="middle">Within States</text>
<rect x="382.7" y="403.2" width="23.5" height="109.1" fill="#D9D9D9" stroke="#333333" stroke-width="0.8"/>
<text transform="translate(390.8,458.55) rotate(90)" font-family="Liberation Sans, sans-serif" font-size="11.7" font-weight="bold" fill="#1A1A1A" text-anchor="middle">Wildfires</text>
<rect x="382.7" y="521.35" width="23.5" height="108.55" fill="#D9D9D9" stroke="#333333" stroke-width="0.8"/>
<text transform="translate(390.8,576.42) rotate(90)" font-family="Liberation Sans, sans-serif" font-size="11.7" font-weight="bold" fill="#1A1A1A" text-anchor="middle">Prescribed Burns</text>
<text x="222.6" y="666.9" font-family="Liberation Sans, sans-serif" font-size="14.7" fill="#000" text-anchor="middle">Smoke Exposure Disparities (% Difference)</text>
<text transform="translate(31.6,516.6) rotate(-90)" font-family="Liberation Sans, sans-serif" font-size="14.7" fill="#000" text-anchor="middle">Overall Social Vulnerability Index Decile</text>
<text x="0.3" y="386.5" font-family="Liberation Sans, sans-serif" font-size="14.3" font-weight="bold" fill="#000">b.</text>
<path d="M151.3 688.7L154.3 691.7L151.3 694.7L148.3 691.7Z" fill="none" stroke="#FF2424" stroke-width="1.2"/>
<text x="172" y="689.6" font-family="Liberation Sans, sans-serif" font-size="11.8" fill="#000">State</text>
<text x="172" y="701.9" font-family="Liberation Sans, sans-serif" font-size="11.8" fill="#000">Assessment</text>
<path d="M256.9 688.7L259.9 691.7L256.9 694.7L253.9 691.7Z" fill="none" stroke="#C2C2C2" stroke-width="1.2"/>
<text x="276.7" y="696" font-family="Liberation Sans, sans-serif" font-size="11.8" fill="#000">Overall</text>
<text x="416.3" y="386.9" font-family="Liberation Sans, sans-serif" font-size="14.3" font-weight="bold" fill="#000">c.</text>
<path d="M451.82 419.33 L457.14 422.23 L458.69 423.18 L460.14 421.75 L460.23 418.07 L481.53 423.49 L478.25 438.38 L478.21 440.91 L470.01 439.07 L468.64 439.16 L466.12 439.15 L463.23 438.90 L460.70 438.84 L458.41 437.91 L456.39 438.27 L454.55 437.12 L454.97 435.08 L453.71 433.60 L452.49 432.74 L450.58 432.09 L450.97 430.16 L451.30 427.77 L451.62 424.13 L451.41 420.94Z" fill="#DCEDF4" stroke="#151515" stroke-width="0.6" stroke-linejoin="round"/>
<path d="M450.58 432.09 L452.49 432.74 L453.71 433.60 L454.97 435.08 L454.55 437.12 L456.39 438.27 L458.41 437.91 L460.70 438.84 L463.23 438.90 L466.12 439.15 L468.64 439.16 L470.01 439.07 L478.21 440.91 L478.85 442.25 L479.29 444.16 L478.12 445.72 L477.15 447.33 L475.43 449.39 L474.98 450.50 L475.69 451.86 L475.11 453.37 L472.93 463.96 L442.61 456.18 L442.64 451.22 L444.03 448.54 L446.44 444.93 L448.56 439.36 L450.14 434.88Z" fill="#EFC3AC" stroke="#151515" stroke-width="0.6" stroke-linejoin="round"/>
<path d="M442.61 456.18 L460.28 461.07 L456.22 478.34 L476.51 506.62 L476.35 509.57 L477.38 511.54 L476.57 512.59 L475.74 514.83 L474.63 515.83 L475.36 518.33 L474.03 519.77 L462.08 518.68 L461.72 516.99 L461.41 514.53 L459.05 511.04 L457.18 510.33 L456.99 508.78 L453.82 507.17 L452.22 505.29 L448.26 504.04 L447.64 502.97 L448.15 500.06 L447.43 497.76 L445.91 495.85 L443.97 491.67 L444.16 489.89 L445.12 488.93 L444.43 487.82 L442.97 485.90 L443.40 482.33 L441.46 480.56 L439.75 474.52 L440.74 469.25 L439.19 465.69 L441.24 462.59 L441.81 459.04Z" fill="#DD7763" stroke="#151515" stroke-width="0.6" stroke-linejoin="round"/>
<path d="M460.28 461.07 L485.78 466.40 L481.06 495.47 L480.33 500.18 L476.98 500.26 L476.73 503.68 L476.51 506.62 L456.22 478.34 L460.28 461.07Z" fill="#F2D9CA" stroke="#151515" stroke-width="0.6" stroke-linejoin="round"/>
<path d="M481.53 423.49 L485.27 424.27 L484.04 430.17 L484.77 433.51 L486.12 434.91 L488.19 439.08 L489.28 439.16 L488.12 442.85 L487.45 445.37 L489.53 445.49 L489.94 447.96 L491.03 450.23 L492.52 452.86 L495.52 452.73 L499.42 452.11 L500.66 453.88 L498.74 468.36 L472.93 463.96 L475.11 453.37 L475.69 451.86 L474.98 450.50 L475.43 449.39 L477.15 447.33 L478.12 445.72 L479.29 444.16 L478.85 442.25 L478.21 440.91 L478.25 438.38 L481.53 423.49Z" fill="#EBF2F6" stroke="#151515" stroke-width="0.6" stroke-linejoin="round"/>
<path d="M485.27 424.27 L484.04 430.17 L484.77 433.51 L486.12 434.91 L488.19 439.08 L489.28 439.16 L488.12 442.85 L487.45 445.37 L489.53 445.49 L489.94 447.96 L491.03 450.23 L492.52 452.86 L495.52 452.73 L499.42 452.11 L500.66 453.88 L501.07 450.84 L530.18 453.49 L531.34 430.01Z" fill="#62A2C8" stroke="#151515" stroke-width="0.6" stroke-linejoin="round"/>
<path d="M501.07 450.84 L530.18 453.49 L529.07 476.98 L497.98 474.20Z" fill="#61A3C6" stroke="#151515" stroke-width="0.6" stroke-linejoin="round"/>
<path d="M485.78 466.40 L498.74 468.36 L497.98 474.20 L506.83 475.26 L504.45 498.65 L481.06 495.47Z" fill="#3A71B1" stroke="#151515" stroke-width="0.6" stroke-linejoin="round"/>
<path d="M506.83 475.26 L538.00 477.29 L537.54 500.76 L504.45 498.65Z" fill="#4277B5" stroke="#151515" stroke-width="0.6" stroke-linejoin="round"/>
<path d="M481.06 495.47 L504.45 498.65 L501.33 531.72 L491.14 530.55 L473.33 521.02 L474.03 519.77 L475.36 518.33 L474.63 515.83 L475.74 514.83 L476.57 512.59 L477.38 511.54 L476.35 509.57 L476.51 506.62 L476.73 503.68 L476.98 500.26 L480.33 500.18 L481.06 495.47Z" fill="#F2CFBC" stroke="#151515" stroke-width="0.6" stroke-linejoin="round"/>
<path d="M504.45 498.65 L533.00 500.64 L531.82 529.88 L513.89 528.91 L514.26 530.22 L505.79 529.52 L505.58 532.14 L501.33 531.72Z" fill="#A31C2F" stroke="#151515" stroke-width="0.6" stroke-linejoin="round"/>
<path d="M513.89 528.91 L531.82 529.88 L532.91 503.57 L547.21 503.79 L547.23 515.15 L549.19 516.26 L551.16 517.23 L554.61 517.76 L557.60 519.16 L559.56 518.81 L562.06 519.60 L564.51 519.21 L567.95 518.76 L570.41 518.51 L574.52 519.60 L576.73 519.98 L576.93 523.07 L577.31 529.08 L578.71 531.85 L580.17 534.66 L579.57 538.81 L579.18 542.34 L575.83 543.74 L573.33 545.65 L570.84 548.12 L566.22 550.67 L563.16 553.70 L561.14 557.26 L561.26 561.90 L562.69 564.99 L560.82 565.51 L557.02 564.57 L552.16 562.39 L549.97 556.32 L545.73 551.68 L543.64 547.02 L540.04 543.08 L535.39 542.35 L533.28 543.93 L531.11 547.36 L527.51 545.65 L523.95 543.56 L522.15 537.63 L518.73 534.51 L515.82 531.98 L514.26 530.22Z" fill="#E9A88A" stroke="#151515" stroke-width="0.6" stroke-linejoin="round"/>
<path d="M533.00 500.64 L572.65 500.00 L572.83 502.92 L574.14 509.30 L574.52 519.60 L570.41 518.51 L567.95 518.76 L564.51 519.21 L562.06 519.60 L559.56 518.81 L557.60 519.16 L554.61 517.76 L551.16 517.23 L549.19 516.26 L547.23 515.15 L547.21 503.79 L532.91 503.57Z" fill="#EEC3AA" stroke="#151515" stroke-width="0.6" stroke-linejoin="round"/>
<path d="M537.87 483.16 L568.41 482.61 L570.36 483.97 L570.26 486.03 L571.97 487.69 L572.65 500.00 L537.54 500.76Z" fill="#8FC3DA" stroke="#151515" stroke-width="0.6" stroke-linejoin="round"/>
<path d="M529.62 465.24 L553.62 465.56 L556.67 466.31 L559.27 466.28 L561.48 467.37 L562.61 468.27 L563.15 470.53 L564.36 472.83 L565.27 475.14 L565.70 477.47 L566.16 479.33 L568.41 482.61 L537.87 483.16 L538.00 477.29 L529.07 476.98Z" fill="#5698C3" stroke="#151515" stroke-width="0.6" stroke-linejoin="round"/>
<path d="M530.44 447.97 L561.23 448.03 L561.40 451.79 L562.34 462.33 L562.61 468.27 L561.48 467.37 L559.27 466.28 L556.67 466.31 L553.62 465.56 L529.62 465.24Z" fill="#92C5DB" stroke="#151515" stroke-width="0.6" stroke-linejoin="round"/>
<path d="M531.34 430.01 L557.80 430.17 L558.54 436.02 L559.78 441.85 L561.23 448.03 L530.44 447.97Z" fill="#2C5184" stroke="#151515" stroke-width="0.6" stroke-linejoin="round"/>
<path d="M557.80 430.17 L565.87 429.77 L565.72 427.54 L567.10 427.92 L568.11 431.27 L571.32 432.21 L576.04 432.21 L580.99 434.07 L586.44 433.13 L588.51 433.45 L584.85 436.29 L581.21 439.67 L579.03 441.97 L578.31 442.57 L578.65 445.97 L577.04 448.96 L577.16 452.49 L577.71 453.92 L580.81 455.39 L583.64 458.05 L584.69 460.60 L562.34 462.33 L561.40 451.79 L561.23 448.03 L559.78 441.85 L558.54 436.02Z" fill="#457AB5" stroke="#151515" stroke-width="0.6" stroke-linejoin="round"/>
<path d="M562.34 462.33 L584.69 460.60 L585.69 464.94 L587.84 466.17 L589.04 467.51 L590.27 468.55 L590.23 470.04 L589.12 471.95 L587.11 473.95 L586.98 476.93 L585.84 478.94 L584.23 477.75 L566.16 479.33 L565.70 477.47 L565.27 475.14 L564.36 472.83 L563.15 470.53 L562.61 468.27Z" fill="#4C89BC" stroke="#151515" stroke-width="0.6" stroke-linejoin="round"/>
<path d="M566.16 479.33 L584.23 477.75 L585.84 478.94 L585.84 481.19 L588.12 483.31 L589.70 485.20 L592.47 487.25 L592.47 489.32 L594.19 492.07 L596.02 493.62 L596.53 495.92 L598.40 497.57 L598.43 499.82 L597.09 500.59 L596.82 502.40 L596.48 503.62 L593.30 504.00 L594.02 500.96 L572.83 502.92 L572.65 500.00 L571.97 487.69 L570.26 486.03 L570.36 483.97 L568.41 482.61 L566.16 479.33Z" fill="#B7DAEA" stroke="#151515" stroke-width="0.6" stroke-linejoin="round"/>
<path d="M572.83 502.92 L594.02 500.96 L593.30 504.00 L596.48 503.62 L595.56 506.10 L595.09 508.52 L594.26 509.80 L593.11 512.88 L591.70 515.98 L591.28 521.92 L576.93 523.07 L576.73 519.98 L574.52 519.60 L574.14 509.30Z" fill="#E59474" stroke="#151515" stroke-width="0.6" stroke-linejoin="round"/>
<path d="M576.93 523.07 L591.28 521.92 L591.30 524.86 L592.83 527.64 L590.78 530.20 L589.93 533.81 L599.56 532.75 L600.72 537.31 L601.83 538.06 L604.23 540.99 L602.48 544.15 L599.32 543.94 L596.21 544.30 L592.49 543.52 L588.72 542.13 L584.55 541.92 L579.18 542.34 L579.57 538.81 L580.17 534.66 L578.71 531.85 L577.31 529.08Z" fill="#E08469" stroke="#151515" stroke-width="0.6" stroke-linejoin="round"/>
<path d="M591.28 521.92 L591.70 515.98 L593.11 512.88 L594.26 509.80 L604.36 508.49 L605.30 526.70 L606.70 535.36 L603.68 536.06 L600.72 537.31 L599.56 532.75 L589.93 533.81 L590.78 530.20 L592.83 527.64 L591.30 524.86 L591.28 521.92Z" fill="#BE2532" stroke="#151515" stroke-width="0.6" stroke-linejoin="round"/>
<path d="M604.36 508.49 L616.83 506.64 L620.80 518.52 L622.21 521.66 L622.35 525.81 L623.39 529.19 L610.32 531.31 L611.74 534.35 L611.35 535.29 L608.84 535.95 L606.70 535.36 L605.30 526.70Z" fill="#F4DACB" stroke="#151515" stroke-width="0.6" stroke-linejoin="round"/>
<path d="M616.83 506.64 L622.92 505.42 L628.71 504.27 L630.57 506.29 L631.96 508.40 L634.43 510.88 L636.92 513.35 L639.05 516.49 L641.63 519.22 L641.77 522.50 L641.42 527.39 L638.80 530.05 L637.82 528.94 L624.36 530.80 L623.39 529.19 L622.35 525.81 L622.21 521.66 L620.80 518.52 L616.83 506.64Z" fill="#F4DACC" stroke="#151515" stroke-width="0.6" stroke-linejoin="round"/>
<path d="M610.32 531.31 L623.39 529.19 L624.36 530.80 L637.82 528.94 L638.80 530.05 L641.42 527.39 L643.16 532.40 L646.05 536.55 L648.49 539.60 L650.25 544.59 L652.83 548.18 L653.44 552.83 L653.04 556.51 L651.19 558.42 L649.03 558.61 L647.37 555.39 L644.44 554.24 L642.18 550.54 L638.90 547.05 L637.38 544.38 L637.11 539.67 L634.67 537.78 L631.55 534.81 L628.28 533.95 L625.56 536.53 L623.01 536.97 L621.74 535.41 L618.95 534.10 L616.34 533.94 L611.35 535.29 L611.74 534.35Z" fill="#EFC9B2" stroke="#151515" stroke-width="0.6" stroke-linejoin="round"/>
<path d="M628.71 504.27 L631.80 502.42 L638.22 501.30 L638.84 501.46 L639.80 502.93 L645.14 501.76 L651.66 505.81 L649.43 510.40 L646.69 514.11 L644.27 517.11 L641.63 519.22 L639.05 516.49 L636.92 513.35 L634.43 510.88 L631.96 508.40 L630.57 506.29 L628.71 504.27Z" fill="#F1D2BE" stroke="#151515" stroke-width="0.6" stroke-linejoin="round"/>
<path d="M622.92 505.42 L622.81 504.24 L624.40 502.14 L627.90 499.94 L630.02 498.29 L631.25 497.12 L633.74 495.07 L633.55 493.66 L660.16 486.92 L663.02 490.70 L663.96 494.12 L661.96 495.95 L660.10 498.35 L656.66 500.55 L654.68 504.77 L651.66 505.81 L645.14 501.76 L639.80 502.93 L638.84 501.46 L638.22 501.30 L631.80 502.42 L628.71 504.27Z" fill="#F1CDB9" stroke="#151515" stroke-width="0.6" stroke-linejoin="round"/>
<path d="M594.26 509.80 L604.36 508.49 L616.83 506.64 L622.92 505.42 L622.81 504.24 L624.40 502.14 L627.90 499.94 L630.02 498.29 L631.25 497.12 L633.74 495.07 L633.55 493.66 L624.27 495.56 L603.69 498.62 L603.92 499.66 L597.09 500.59 L596.82 502.40 L596.48 503.62 L595.56 506.10 L595.09 508.52 L594.26 509.80Z" fill="#ECF1F4" stroke="#151515" stroke-width="0.6" stroke-linejoin="round"/>
<path d="M597.09 500.59 L603.92 499.66 L603.69 498.62 L624.27 495.56 L627.15 493.48 L629.86 490.19 L631.08 488.47 L629.27 487.30 L627.90 485.18 L627.21 484.13 L625.04 482.66 L621.98 483.83 L618.99 482.79 L616.44 482.08 L614.22 484.88 L612.79 487.53 L612.39 489.39 L609.91 490.10 L607.65 490.77 L604.85 490.90 L602.99 492.07 L602.90 493.87 L601.35 496.46 L598.40 497.57 L597.09 500.59 L598.43 499.82 L598.40 497.57Z" fill="#F5ECE7" stroke="#151515" stroke-width="0.6" stroke-linejoin="round"/>
<path d="M624.27 495.56 L633.55 493.66 L660.16 486.92 L659.25 485.03 L657.52 484.93 L656.74 482.08 L655.07 479.48 L655.96 479.22 L652.02 477.91 L651.40 475.62 L648.82 473.89 L647.67 473.48 L647.07 474.38 L645.24 475.50 L643.31 478.16 L642.40 480.23 L640.26 480.17 L639.43 483.72 L638.67 486.65 L636.59 488.06 L633.98 489.27 L631.08 488.47 L629.86 490.19 L627.15 493.48 L624.27 495.56Z" fill="#4B89C2" stroke="#151515" stroke-width="0.6" stroke-linejoin="round"/>
<path d="M660.60 477.62 L658.92 478.64 L658.86 483.61 L659.78 480.85Z" fill="#4F91C6" stroke="#151515" stroke-width="0.6" stroke-linejoin="round"/>
<path d="M627.21 484.13 L627.90 485.18 L629.27 487.30 L631.08 488.47 L633.98 489.27 L636.59 488.06 L638.67 486.65 L639.43 483.72 L640.26 480.17 L642.40 480.23 L643.31 478.16 L645.24 475.50 L647.07 474.38 L647.67 473.48 L646.03 472.21 L643.92 473.10 L641.88 474.25 L640.12 476.24 L639.39 473.25 L634.83 474.39 L633.60 469.09 L633.71 471.13 L633.58 473.60 L633.54 475.43 L631.87 477.34 L630.28 478.61 L630.21 480.45 L628.78 482.58 L627.21 484.13Z" fill="#F7EBE4" stroke="#151515" stroke-width="0.6" stroke-linejoin="round"/>
<path d="M639.39 473.25 L655.42 468.74 L657.49 475.98 L660.74 474.97 L660.60 477.62 L657.81 478.98 L656.81 477.11 L654.38 473.51 L654.51 476.56 L655.96 479.22 L652.02 477.91 L651.40 475.62 L648.82 473.89 L647.67 473.48 L646.03 472.21 L643.92 473.10 L641.88 474.25 L640.12 476.24Z" fill="#4F91C6" stroke="#151515" stroke-width="0.6" stroke-linejoin="round"/>
<path d="M655.42 468.74 L656.97 467.76 L656.65 469.10 L657.80 470.61 L660.15 472.98 L660.74 474.97 L657.49 475.98Z" fill="#DCECF3" stroke="#151515" stroke-width="0.6" stroke-linejoin="round"/>
<path d="M631.78 461.38 L634.58 458.90 L634.97 460.46 L653.44 455.18 L654.82 455.99 L657.30 457.94 L656.46 461.39 L656.47 462.94 L658.51 465.09 L658.00 466.50 L656.97 467.76 L655.42 468.74 L634.83 474.39Z" fill="#7BB2D2" stroke="#151515" stroke-width="0.6" stroke-linejoin="round"/>
<path d="M657.30 457.94 L661.26 458.94 L661.36 460.73 L660.66 462.21 L661.98 462.40 L662.53 465.97 L661.95 468.66 L660.37 472.10 L657.80 470.61 L656.65 469.10 L656.97 467.76 L658.00 466.50 L658.51 465.09 L656.47 462.94 L656.46 461.39 L657.30 457.94Z" fill="#7AB4D8" stroke="#151515" stroke-width="0.6" stroke-linejoin="round"/>
<path d="M634.97 460.46 L653.44 455.18 L654.82 455.99 L657.30 457.94 L661.26 458.94 L662.29 458.53 L662.36 456.62 L661.02 452.37 L660.64 448.09 L658.95 443.32 L657.71 441.23 L655.98 435.53 L650.70 437.32 L648.71 439.22 L646.18 443.76 L646.97 447.86 L644.48 449.97 L640.24 450.64 L636.04 452.40 L637.25 454.35 L634.58 458.90ZM661.75 461.22 L663.28 459.45 L669.05 455.85 L667.36 457.72 L664.45 460.19Z" fill="#F3E6DD" stroke="#151515" stroke-width="0.6" stroke-linejoin="round"/>
<path d="M661.02 452.37 L667.98 450.09 L669.34 453.84 L666.56 455.35 L662.29 458.53 L662.36 456.62Z" fill="#4F8EC5" stroke="#151515" stroke-width="0.6" stroke-linejoin="round"/>
<path d="M667.98 450.09 L669.69 449.45 L671.79 451.98 L670.47 453.23 L669.34 453.84Z" fill="#A8D3E7" stroke="#151515" stroke-width="0.6" stroke-linejoin="round"/>
<path d="M660.98 452.38 L667.98 450.09 L669.69 449.45 L671.79 451.98 L673.30 450.76 L676.20 449.19 L675.00 447.22 L672.99 448.65 L671.46 447.00 L671.54 444.73 L670.21 443.83 L668.64 445.52 L663.92 447.06 L660.64 448.09Z" fill="#5B9FCC" stroke="#151515" stroke-width="0.6" stroke-linejoin="round"/>
<path d="M660.64 448.09 L663.92 447.06 L663.04 443.77 L662.44 437.64 L663.13 432.87 L655.98 435.53 L657.71 441.23 L658.95 443.32Z" fill="#2F68AA" stroke="#151515" stroke-width="0.6" stroke-linejoin="round"/>
<path d="M663.92 447.06 L668.64 445.52 L670.21 443.83 L670.25 442.47 L668.58 441.26 L664.13 430.63 L663.13 432.87 L662.44 437.64 L663.04 443.77 L663.92 447.06Z" fill="#163E71" stroke="#151515" stroke-width="0.6" stroke-linejoin="round"/>
<path d="M670.25 442.47 L668.58 441.26 L664.13 430.63 L664.99 429.66 L665.80 426.13 L665.16 421.24 L666.29 415.93 L669.89 415.05 L672.36 415.80 L675.09 421.94 L677.25 423.28 L680.48 426.43 L679.54 429.47 L676.41 432.77 L673.22 436.03 L671.14 438.80Z" fill="#60A0C6" stroke="#151515" stroke-width="0.6" stroke-linejoin="round"/>
<path d="M604.98 468.17 L613.79 466.98 L619.58 465.65 L620.70 463.48 L621.19 461.57 L622.58 459.75 L622.42 457.37 L621.12 454.02 L620.35 451.47 L618.67 451.71 L617.43 453.00 L615.68 455.05 L614.94 453.52 L616.60 451.07 L616.88 449.98 L616.48 447.47 L615.70 446.36 L615.18 444.72 L613.68 444.61 L610.78 443.81 L609.51 443.28 L608.33 443.68 L607.46 446.85 L606.75 447.58 L607.32 449.57 L605.16 449.36 L604.54 450.66 L604.31 454.29 L604.60 457.24 L605.62 459.46 L606.65 461.67 L606.83 464.04 L606.05 465.96ZM585.91 442.27 L587.83 440.67 L590.59 440.00 L592.86 438.79 L593.83 437.16 L595.43 435.73 L594.91 437.60 L594.10 438.91 L597.35 441.39 L599.71 440.72 L601.76 440.67 L603.89 438.80 L607.39 437.73 L609.34 439.28 L611.07 438.63 L612.03 440.25 L613.80 440.78 L612.30 441.58 L609.57 442.54 L606.54 441.92 L604.28 443.22 L602.16 445.39 L600.23 445.11 L599.25 446.76 L598.60 449.25 L596.33 445.43 L593.31 444.68 L589.91 443.96 L587.29 443.47 L585.91 442.27ZM589.57 434.20 L592.42 431.83 L592.12 432.47 L589.94 433.97Z" fill="#B0D5E6" stroke="#151515" stroke-width="0.6" stroke-linejoin="round"/>
<path d="M578.31 442.57 L579.46 442.22 L582.57 440.88 L584.12 440.23 L585.91 442.27 L587.29 443.47 L589.91 443.96 L593.31 444.68 L596.33 445.43 L598.60 449.25 L597.44 452.71 L598.87 451.00 L600.87 447.70 L600.07 450.51 L599.60 452.92 L599.30 455.11 L599.40 457.18 L599.18 461.45 L600.08 464.53 L587.84 466.17 L585.69 464.94 L584.69 460.60 L583.64 458.05 L580.81 455.39 L577.71 453.92 L577.16 452.49 L577.04 448.96 L578.65 445.97Z" fill="#4D8ABC" stroke="#151515" stroke-width="0.6" stroke-linejoin="round"/>
<path d="M587.84 466.17 L600.08 464.53 L601.95 469.01 L603.99 482.70 L603.88 484.21 L604.68 486.47 L603.18 489.07 L602.99 492.07 L602.90 493.87 L601.35 496.46 L598.40 497.57 L596.53 495.92 L596.02 493.62 L594.19 492.07 L592.47 489.32 L592.47 487.25 L589.70 485.20 L588.12 483.31 L585.84 481.19 L585.84 478.94 L586.98 476.93 L587.11 473.95 L589.12 471.95 L590.23 470.04 L590.27 468.55 L589.04 467.51 L587.84 466.17Z" fill="#B2D7E7" stroke="#151515" stroke-width="0.6" stroke-linejoin="round"/>
<path d="M601.90 468.66 L613.73 466.63 L616.44 482.08 L614.22 484.88 L612.79 487.53 L612.39 489.39 L609.91 490.10 L607.65 490.77 L604.85 490.90 L602.99 492.07 L603.18 489.07 L604.68 486.47 L603.88 484.21 L603.99 482.70Z" fill="#B4D9E9" stroke="#151515" stroke-width="0.6" stroke-linejoin="round"/>
<path d="M613.79 466.98 L619.58 465.65 L621.67 465.99 L624.06 466.69 L627.38 465.34 L629.98 462.91 L631.78 461.38 L633.60 469.09 L633.71 471.13 L633.58 473.60 L633.54 475.43 L631.87 477.34 L630.28 478.61 L630.21 480.45 L628.78 482.58 L627.21 484.13 L625.04 482.66 L621.98 483.83 L618.99 482.79 L616.44 482.08Z" fill="#7BB2D2" stroke="#151515" stroke-width="0.6" stroke-linejoin="round"/>
<path d="M652.46 557.84 L650.44 560.38 L647.51 562.51 L645.96 563.13 L647.46 562.22 L650.39 560.09 L652.14 557.61Z" fill="#EFC9B2" stroke="#151515" stroke-width="0.6" stroke-linejoin="round"/>
<path d="M455.92 511.68 L457.27 512.46 L456.20 512.83Z" fill="#DF7A62" stroke="#151515" stroke-width="0.6" stroke-linejoin="round"/>
<path d="M450.37 506.97 L452.69 507.82 L451.67 507.88 L449.29 507.32Z" fill="#DF7A62" stroke="#151515" stroke-width="0.6" stroke-linejoin="round"/>
<path d="M673.25 452.31 L673.97 451.34 L674.72 451.49 L673.84 452.28Z" fill="#5B9FCC" stroke="#151515" stroke-width="0.6" stroke-linejoin="round"/>
<path d="M675.81 451.90 L676.52 451.31 L677.03 451.55 L676.32 452.03Z" fill="#5B9FCC" stroke="#151515" stroke-width="0.6" stroke-linejoin="round"/>
<text x="450" y="598" font-family="Liberation Sans, sans-serif" font-size="14.6" font-weight="bold" fill="#000">Average Overall</text>
<text x="450" y="614" font-family="Liberation Sans, sans-serif" font-size="14.6" font-weight="bold" fill="#000">Social Vulnerability Index</text>
<text x="450" y="630" font-family="Liberation Sans, sans-serif" font-size="14.6" font-weight="bold" fill="#000">Percentile Rank</text>
<defs><linearGradient id="gc" x1="0" x2="1" y1="0" y2="0"><stop offset="0" stop-color="#1C3866"/><stop offset="0.05" stop-color="#2A4F8A"/><stop offset="0.095" stop-color="#3A68AA"/><stop offset="0.15" stop-color="#4479B6"/><stop offset="0.205" stop-color="#5593C2"/><stop offset="0.276" stop-color="#83BBD6"/><stop offset="0.366" stop-color="#B8DCE7"/><stop offset="0.44" stop-color="#E2EEF3"/><stop offset="0.5" stop-color="#F6F6F6"/><stop offset="0.569" stop-color="#F4DECD"/><stop offset="0.637" stop-color="#EDBDA3"/><stop offset="0.705" stop-color="#E59C80"/><stop offset="0.747" stop-color="#E07C65"/><stop offset="0.79" stop-color="#D56250"/><stop offset="0.86" stop-color="#C03A3C"/><stop offset="0.905" stop-color="#B01E2F"/><stop offset="0.95" stop-color="#8E1329"/><stop offset="1.0" stop-color="#6A0C22"/></linearGradient></defs>
<rect x="448.9" y="638.9" width="221.4" height="18.4" fill="url(#gc)"/>
<line x1="494.4" x2="494.4" y1="638.9" y2="642.6" stroke="#fff" stroke-width="0.8" opacity="0.8"/>
<line x1="494.4" x2="494.4" y1="653.6" y2="657.3" stroke="#fff" stroke-width="0.8" opacity="0.8"/>
<text x="494.4" y="673.6" font-family="Liberation Sans, sans-serif" font-size="11.8" fill="#000" text-anchor="middle">0.4</text>
<line x1="559.6" x2="559.6" y1="638.9" y2="642.6" stroke="#fff" stroke-width="0.8" opacity="0.8"/>
<line x1="559.6" x2="559.6" y1="653.6" y2="657.3" stroke="#fff" stroke-width="0.8" opacity="0.8"/>
<text x="559.6" y="673.6" font-family="Liberation Sans, sans-serif" font-size="11.8" fill="#000" text-anchor="middle">0.5</text>
<line x1="624.5" x2="624.5" y1="638.9" y2="642.6" stroke="#fff" stroke-width="0.8" opacity="0.8"/>
<line x1="624.5" x2="624.5" y1="653.6" y2="657.3" stroke="#fff" stroke-width="0.8" opacity="0.8"/>
<text x="624.5" y="673.6" font-family="Liberation Sans, sans-serif" font-size="11.8" fill="#000" text-anchor="middle">0.6</text>
</svg>
</body></html>
